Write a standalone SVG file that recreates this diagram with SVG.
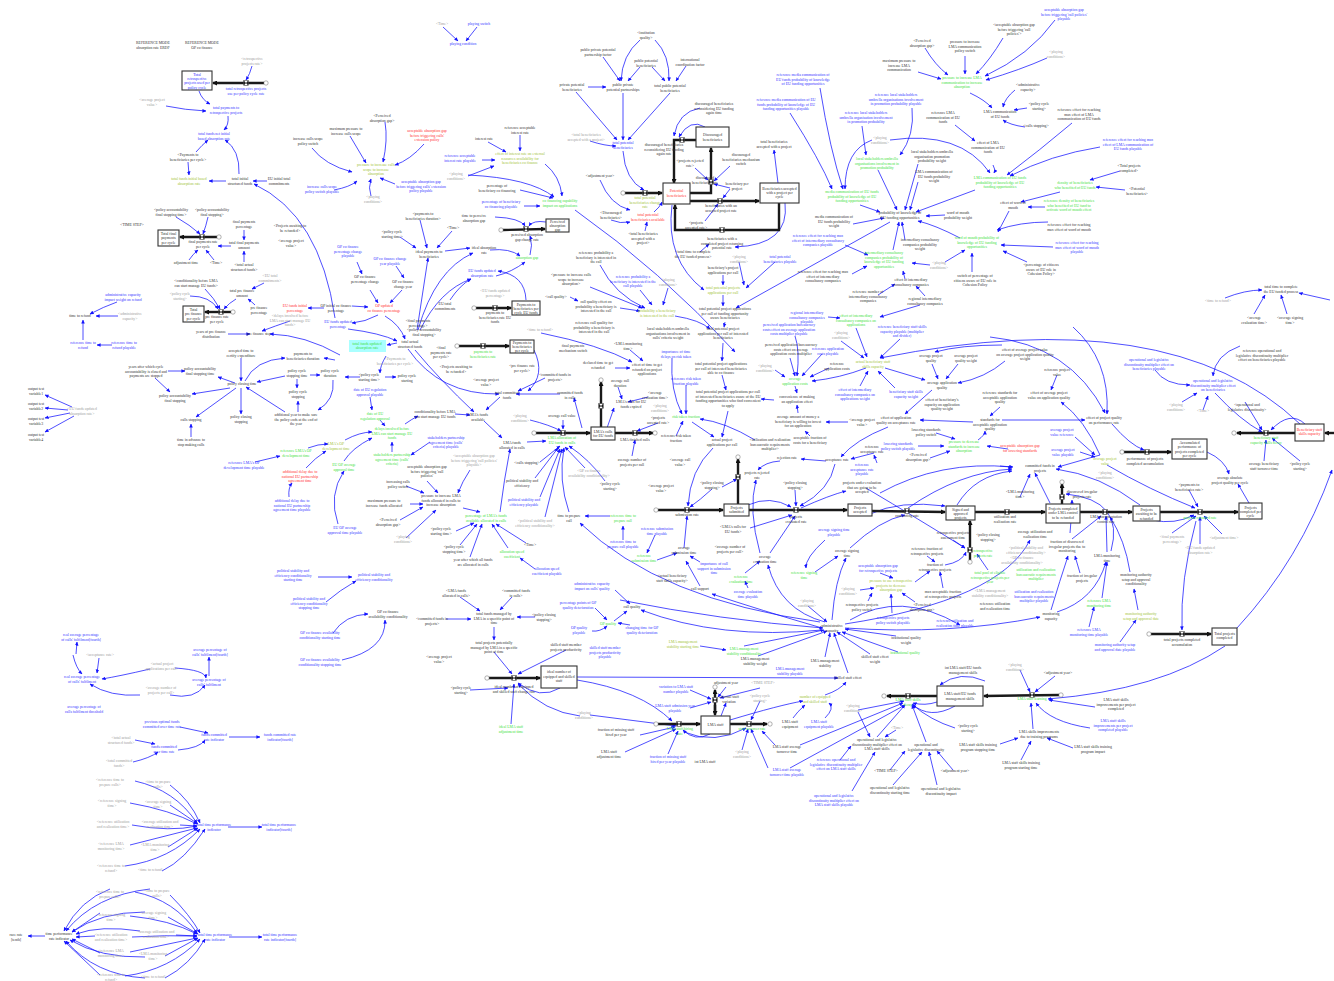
<svg xmlns="http://www.w3.org/2000/svg" width="1334" height="981" viewBox="0 0 1334 981">
<style>
text{font-family:"Liberation Serif","Times New Roman",serif;font-size:3.8px;text-anchor:middle}
.k{fill:#333}.b{fill:#3535ff}.g{fill:#3ee23e}.y{fill:#a3c43a}.gr{fill:#a0a0a0}.r{fill:#ff3030}
.c path{fill:none;stroke:#1414ff;stroke-width:.75;marker-end:url(#a)}
.pipe path{fill:none;stroke:#1a1a1a;stroke-width:2.4;marker-end:url(#p)}
.st rect{fill:#fff;stroke:#333;stroke-width:1.1}
.cl{fill:#fff;stroke:#666;stroke-width:.5}
</style>
<defs>
<marker id="a" viewBox="0 0 10 10" refX="9" refY="5" markerWidth="4" markerHeight="4" markerUnits="userSpaceOnUse" orient="auto"><path d="M0,0.5L10,5L0,9.5z" fill="#1414ff"/></marker>
<marker id="p" viewBox="0 0 10 10" refX="8" refY="5" markerWidth="5" markerHeight="5" markerUnits="userSpaceOnUse" orient="auto"><path d="M0,0L10,5L0,10z" fill="#111"/></marker>
<g id="vl"><rect x="-2.2" y="-2.5" width="4.4" height="5" fill="#fff" stroke="#222" stroke-width=".5"/><path d="M-2.2,-2.5L2.2,2.5L2.2,-2.5L-2.2,2.5Z" fill="#222"/></g>
</defs>
<rect width="1334" height="981" fill="#fff"/>

<g id="connectors" class="c">
<path d="M252,66Q250,74 246,80"/>
<path d="M199,91Q202,100 210,104"/>
<path d="M166,106Q185,110 206,111"/>
<path d="M228,116Q229,125 224,130"/>
<path d="M196,152Q202,145 208,140"/>
<path d="M239,174Q240,150 225,140"/>
<path d="M188,162L189,175"/>
<path d="M226,181L209,181"/>
<path d="M267,181L253,181"/>
<path d="M335,318Q320,215 254,184"/>
<path d="M176,217Q190,225 200,234"/>
<path d="M208,217Q206,226 203,234"/>
<path d="M244,230L244,240"/>
<path d="M231,246L218,246"/>
<path d="M189,260Q193,254 198,250"/>
<path d="M214,260Q210,255 206,250"/>
<path d="M244,262L244,251"/>
<path d="M205,289Q214,298 220,309"/>
<path d="M190,296Q210,296 218,309"/>
<path d="M236,299Q229,303 224,309"/>
<path d="M264,283Q258,286 252,289"/>
<path d="M255,305Q252,302 248,299"/>
<path d="M324,308L308,308"/>
<path d="M117,302Q103,307 90,314"/>
<path d="M118,316L96,316"/>
<path d="M83,340L83,320"/>
<path d="M112,345L97,345"/>
<path d="M228,334L250,334"/>
<path d="M340,355Q305,335 270,334"/>
<path d="M290,321Q275,326 262,331"/>
<path d="M241,358L241,381"/>
<path d="M245,381Q255,360 285,358"/>
<path d="M335,360L324,358"/>
<path d="M285,376L257,382"/>
<path d="M310,375L320,375"/>
<path d="M297,379L297,388"/>
<path d="M235,383L218,377"/>
<path d="M168,371L185,371"/>
<path d="M155,378L170,392"/>
<path d="M230,388L192,394"/>
<path d="M236,388L196,417"/>
<path d="M241,388L241,414"/>
<path d="M285,412L246,387"/>
<path d="M298,412L298,401"/>
<path d="M191,437L191,424"/>
<path d="M72,407L45,395"/>
<path d="M68,410L45,408"/>
<path d="M70,413L45,418"/>
<path d="M74,416L45,432"/>
<path d="M255,462L280,456"/>
<path d="M308,448Q318,444 328,444"/>
<path d="M306,468Q315,458 326,451"/>
<path d="M289,497Q288,488 292,483"/>
<path d="M333,380Q335,400 318,410"/>
<path d="M318,577L352,577"/>
<path d="M326,602Q340,590 356,581"/>
<path d="M333,633Q345,615 368,614"/>
<path d="M342,660Q386,650 385,620"/>
<path d="M386,356Q380,366 380,373"/>
<path d="M385,377L396,377"/>
<path d="M360,377L345,377"/>
<path d="M397,343L387,345"/>
<path d="M385,316Q400,325 405,339"/>
<path d="M348,329Q380,333 397,341"/>
<path d="M370,397L372,410"/>
<path d="M380,420L385,426"/>
<path d="M405,424Q412,419 418,416"/>
<path d="M345,440Q360,432 372,432"/>
<path d="M392,452L392,442"/>
<path d="M344,461Q352,448 372,438"/>
<path d="M430,442L411,455"/>
<path d="M338,524Q328,495 344,471"/>
<path d="M415,350Q440,380 474,412"/>
<path d="M408,349Q440,395 499,394"/>
<path d="M500,397L486,410"/>
<path d="M560,394L516,394"/>
<path d="M545,378L518,391"/>
<path d="M534,350Q546,375 528,391"/>
<path d="M455,414L470,415"/>
<path d="M484,421L502,438"/>
<path d="M527,442L546,441"/>
<path d="M500,512Q504,480 510,449"/>
<path d="M530,420Q550,425 561,431"/>
<path d="M563,420L563,429"/>
<path d="M540,462L560,446"/>
<path d="M535,478L558,448"/>
<path d="M540,497L560,449"/>
<path d="M585,468L565,447"/>
<path d="M545,517L562,449"/>
<path d="M605,481Q590,460 569,446"/>
<path d="M569,512Q558,480 564,448"/>
<path d="M610,516L585,516"/>
<path d="M623,540L623,526"/>
<path d="M427,481L438,493"/>
<path d="M470,470Q462,482 458,493"/>
<path d="M406,486L424,493"/>
<path d="M410,504L423,504"/>
<path d="M400,520L423,507"/>
<path d="M406,538L436,510"/>
<path d="M463,508L480,512"/>
<path d="M456,531L474,523"/>
<path d="M460,545L477,524"/>
<path d="M470,557L482,524"/>
<path d="M526,543L496,524"/>
<path d="M508,548L492,524"/>
<path d="M535,569L520,558"/>
<path d="M460,597L480,611"/>
<path d="M512,597L500,610"/>
<path d="M446,619L471,619"/>
<path d="M535,617L517,617"/>
<path d="M494,627L494,640"/>
<path d="M615,590L630,604"/>
<path d="M595,608L607,620"/>
<path d="M592,631Q600,632 607,626"/>
<path d="M630,625L618,623"/>
<path d="M614,621L627,611"/>
<path d="M822,630Q720,640 641,610"/>
<path d="M820,622Q660,600 580,523"/>
<path d="M630,350L643,361"/>
<path d="M615,368L630,368"/>
<path d="M541,333Q600,345 632,362"/>
<path d="M618,387L622,399"/>
<path d="M648,397L628,402"/>
<path d="M658,423L637,431"/>
<path d="M607,428L614,408"/>
<path d="M632,456L635,440"/>
<path d="M582,428L574,398"/>
<path d="M443,27L458,41"/>
<path d="M477,27L466,41"/>
<path d="M603,57L620,81"/>
<path d="M640,67L628,81"/>
<path d="M640,40Q622,55 621,81"/>
<path d="M655,40Q670,55 669,81"/>
<path d="M652,67L665,81"/>
<path d="M686,66L676,81"/>
<path d="M588,87L606,87"/>
<path d="M576,92L617,140"/>
<path d="M623,93L623,140"/>
<path d="M670,93L628,140"/>
<path d="M590,141Q605,146 616,146"/>
<path d="M623,151Q625,180 644,190"/>
<path d="M600,180Q610,205 630,210"/>
<path d="M611,220Q620,224 630,222"/>
<path d="M645,231L647,222"/>
<path d="M654,212Q660,207 662,202"/>
<path d="M385,122Q388,140 383,162"/>
<path d="M350,136L366,163"/>
<path d="M424,144Q410,160 395,165"/>
<path d="M395,184L380,178"/>
<path d="M371,196Q368,188 371,179"/>
<path d="M312,148Q325,165 352,172"/>
<path d="M334,190Q350,187 357,181"/>
<path d="M488,142L506,152"/>
<path d="M520,135L520,151"/>
<path d="M482,160L495,160"/>
<path d="M468,176L494,166"/>
<path d="M468,175Q530,178 554,197"/>
<path d="M520,190L553,198"/>
<path d="M524,206L540,206"/>
<path d="M545,164Q560,176 562,196"/>
<path d="M575,210Q660,270 735,352"/>
<path d="M495,217Q520,218 525,226"/>
<path d="M546,222Q533,220 529,226"/>
<path d="M530,255Q533,245 530,236"/>
<path d="M490,250Q510,248 520,256"/>
<path d="M445,251L470,248"/>
<path d="M420,220L427,248"/>
<path d="M400,237L416,248"/>
<path d="M452,231L437,248"/>
<path d="M496,276Q512,272 525,262"/>
<path d="M526,300Q525,275 498,271"/>
<path d="M450,300Q460,285 471,279"/>
<path d="M357,262L362,274"/>
<path d="M396,266L404,278"/>
<path d="M370,290L378,303"/>
<path d="M402,290L390,303"/>
<path d="M352,306L368,307"/>
<path d="M378,315Q365,322 352,323"/>
<path d="M600,265Q615,295 645,308"/>
<path d="M590,287L642,308"/>
<path d="M620,308L640,311"/>
<path d="M640,290L652,305"/>
<path d="M668,288L663,305"/>
<path d="M570,297L578,301"/>
<path d="M417,330L428,258"/>
<path d="M418,330Q435,270 473,253"/>
<path d="M420,330Q440,290 471,279"/>
<path d="M700,108Q678,112 674,136"/>
<path d="M705,127Q690,118 679,137"/>
<path d="M695,168L708,180"/>
<path d="M730,166L714,181"/>
<path d="M730,188L714,184"/>
<path d="M730,189L723,198"/>
<path d="M705,221L718,204"/>
<path d="M778,183L774,150"/>
<path d="M785,203Q790,245 735,247"/>
<path d="M672,205Q665,260 704,290"/>
<path d="M700,252L709,244"/>
<path d="M739,262L744,285"/>
<path d="M775,262L746,288"/>
<path d="M723,275L723,285"/>
<path d="M723,295L723,306"/>
<path d="M725,322L724,327"/>
<path d="M675,316Q700,320 710,329"/>
<path d="M723,343L722,361"/>
<path d="M722,375L726,390"/>
<path d="M890,222L736,308"/>
<path d="M860,205L880,212"/>
<path d="M820,88Q830,150 843,189"/>
<path d="M790,113Q820,160 832,189"/>
<path d="M872,140Q845,150 845,189"/>
<path d="M890,140Q960,130 990,173"/>
<path d="M912,108Q915,135 900,155"/>
<path d="M862,126L866,155"/>
<path d="M878,170L897,210"/>
<path d="M918,164L905,210"/>
<path d="M918,182L910,210"/>
<path d="M975,190L916,212"/>
<path d="M853,224L884,218"/>
<path d="M945,215L926,216"/>
<path d="M905,240L902,222"/>
<path d="M893,250L899,222"/>
<path d="M960,238Q935,225 918,221"/>
<path d="M930,265L912,263"/>
<path d="M945,262L965,250"/>
<path d="M845,245L868,255"/>
<path d="M852,274L867,266"/>
<path d="M905,279L903,271"/>
<path d="M878,295L895,284"/>
<path d="M925,296L916,286"/>
<path d="M828,317L840,318"/>
<path d="M920,305L880,317"/>
<path d="M972,272L972,253"/>
<path d="M925,48Q935,65 948,75"/>
<path d="M965,56L965,74"/>
<path d="M918,72L941,79"/>
<path d="M1003,38Q990,60 976,74"/>
<path d="M1055,20Q1030,55 985,76"/>
<path d="M1047,58Q1020,70 986,80"/>
<path d="M970,93Q985,100 992,108"/>
<path d="M1015,90Q1005,98 1003,107"/>
<path d="M1027,108L1014,110"/>
<path d="M1025,127Q1010,125 1003,120"/>
<path d="M955,125L975,141"/>
<path d="M993,165Q996,170 994,173"/>
<path d="M1072,123Q1040,150 1007,175"/>
<path d="M1100,147Q1050,155 1010,176"/>
<path d="M1120,171L1090,180"/>
<path d="M1125,190L1096,187"/>
<path d="M1060,192L1021,202"/>
<path d="M1045,207L1028,207"/>
<path d="M1048,222Q1020,222 997,230"/>
<path d="M1053,247L1001,245"/>
<path d="M1027,262L1003,251"/>
<path d="M1009,211L998,232"/>
<path d="M1225,298Q1245,290 1262,290"/>
<path d="M1254,314L1265,295"/>
<path d="M1287,314L1281,295"/>
<path d="M1330,300L1299,293"/>
<path d="M790,358L795,376"/>
<path d="M822,354L802,376"/>
<path d="M829,368L810,377"/>
<path d="M775,370L785,377"/>
<path d="M795,386L797,393"/>
<path d="M774,400L761,399"/>
<path d="M866,368Q840,378 812,381"/>
<path d="M885,368L925,380"/>
<path d="M860,386L868,371"/>
<path d="M895,388L878,371"/>
<path d="M856,328L867,357"/>
<path d="M900,339L880,358"/>
<path d="M841,341L864,358"/>
<path d="M795,336Q800,350 797,376"/>
<path d="M1002,345Q960,345 935,352"/>
<path d="M1005,361Q985,378 958,383"/>
<path d="M932,364L938,379"/>
<path d="M958,364L946,379"/>
<path d="M932,390L905,414"/>
<path d="M1000,407L990,416"/>
<path d="M973,422L920,420"/>
<path d="M1002,420L1085,420"/>
<path d="M888,427Q855,440 841,457"/>
<path d="M798,413L797,405"/>
<path d="M848,422L826,422"/>
<path d="M810,436L805,431"/>
<path d="M728,411L722,437"/>
<path d="M692,422L714,437"/>
<path d="M755,440Q725,422 700,419"/>
<path d="M686,385L686,414"/>
<path d="M672,358Q670,390 682,414"/>
<path d="M676,436L683,421"/>
<path d="M713,448Q690,470 688,506"/>
<path d="M936,433L955,439"/>
<path d="M918,446L944,446"/>
<path d="M930,458L950,451"/>
<path d="M1008,449L987,446"/>
<path d="M978,440Q985,435 985,431"/>
<path d="M874,453L851,459"/>
<path d="M877,463L874,455"/>
<path d="M826,461L801,459"/>
<path d="M835,464Q830,490 800,506"/>
<path d="M780,461Q765,462 758,470"/>
<path d="M722,487L737,479"/>
<path d="M795,490L796,506"/>
<path d="M712,489Q700,500 690,507"/>
<path d="M748,505Q770,495 791,507"/>
<path d="M750,528L792,515"/>
<path d="M770,553L795,516"/>
<path d="M760,553Q748,510 756,480"/>
<path d="M801,508Q830,495 846,491"/>
<path d="M850,548Q880,520 905,515"/>
<path d="M870,514Q900,500 945,506"/>
<path d="M880,493Q940,460 1012,467"/>
<path d="M908,508Q960,472 1012,469"/>
<path d="M957,505Q975,475 1012,471"/>
<path d="M825,540Q805,558 806,568"/>
<path d="M815,572L838,556"/>
<path d="M745,573L760,561"/>
<path d="M748,588L745,581"/>
<path d="M684,548L687,516"/>
<path d="M700,562L690,556"/>
<path d="M700,586L686,561"/>
<path d="M655,535L647,553"/>
<path d="M657,560L677,553"/>
<path d="M880,573L893,578"/>
<path d="M927,556L935,562"/>
<path d="M943,588L940,572"/>
<path d="M945,565Q962,562 966,552"/>
<path d="M915,582L930,571"/>
<path d="M860,590L874,588"/>
<path d="M868,601L872,593"/>
<path d="M892,613L891,594"/>
<path d="M915,602L902,593"/>
<path d="M953,540L965,548"/>
<path d="M988,570L977,554"/>
<path d="M866,488Q920,520 965,548"/>
<path d="M845,628Q950,635 1040,617"/>
<path d="M845,624Q1000,600 1030,540"/>
<path d="M822,628Q760,610 712,594"/>
<path d="M825,622Q780,610 768,565"/>
<path d="M832,620Q835,580 846,558"/>
<path d="M850,620Q900,590 960,625"/>
<path d="M808,606L827,622"/>
<path d="M744,646L824,630"/>
<path d="M758,656L827,631"/>
<path d="M825,657L830,633"/>
<path d="M870,654L837,632"/>
<path d="M896,636L845,629"/>
<path d="M898,652L842,632"/>
<path d="M848,673L834,633"/>
<path d="M700,646L726,650"/>
<path d="M620,600Q720,620 823,628"/>
<path d="M1100,455L1058,467"/>
<path d="M1107,465Q1150,490 1195,508"/>
<path d="M1075,437L1095,455"/>
<path d="M1080,452L1095,457"/>
<path d="M1100,455Q1085,420 1061,402"/>
<path d="M1057,375L1051,390"/>
<path d="M1073,327Q1110,360 1107,414"/>
<path d="M1112,424Q1130,445 1144,450"/>
<path d="M1050,503L1035,473"/>
<path d="M1020,497L1030,474"/>
<path d="M1140,505Q1100,475 1056,469"/>
<path d="M1000,466L1013,467"/>
<path d="M1107,552L1106,516"/>
<path d="M1072,539L1101,516"/>
<path d="M1130,572Q1125,540 1110,517"/>
<path d="M1080,573L1075,556"/>
<path d="M1051,610Q1060,580 1068,556"/>
<path d="M1057,612Q1095,600 1106,562"/>
<path d="M1102,598L1107,562"/>
<path d="M1089,627L1094,607"/>
<path d="M1138,610L1134,589"/>
<path d="M1120,642L1136,620"/>
<path d="M1111,551Q1125,500 1066,494"/>
<path d="M1070,533Q1072,510 1072,500"/>
<path d="M1189,490L1198,507"/>
<path d="M1172,533L1196,516"/>
<path d="M1222,534L1204,516"/>
<path d="M1200,544L1200,517"/>
<path d="M1152,520Q1175,525 1194,515"/>
<path d="M1196,521Q1180,580 1182,630"/>
<path d="M1249,503L1238,484"/>
<path d="M1207,452Q1225,460 1229,474"/>
<path d="M1237,628Q1300,560 1332,470"/>
<path d="M1300,424Q1170,300 880,358"/>
<path d="M1300,461L1272,438"/>
<path d="M1264,461L1266,440"/>
<path d="M1245,402L1262,430"/>
<path d="M1215,393Q1240,420 1262,432"/>
<path d="M1203,410L1208,396"/>
<path d="M1182,402L1197,393"/>
<path d="M1240,346Q1215,355 1213,376"/>
<path d="M1155,370Q1165,385 1190,385"/>
<path d="M1305,424Q1290,410 1271,430"/>
<path d="M990,337Q1070,345 1105,413"/>
<path d="M577,677L838,678"/>
<path d="M577,680Q640,690 672,721"/>
<path d="M730,720Q780,705 803,701"/>
<path d="M793,718Q797,712 805,705"/>
<path d="M825,718Q835,708 829,703"/>
<path d="M825,695Q840,690 846,682"/>
<path d="M858,710L904,701"/>
<path d="M858,712L870,737"/>
<path d="M937,702Q925,706 913,703"/>
<path d="M955,728Q930,720 913,705"/>
<path d="M926,742L912,705"/>
<path d="M877,737L905,705"/>
<path d="M800,745L903,703"/>
<path d="M790,768L905,705"/>
<path d="M775,745L762,731"/>
<path d="M768,768L751,729"/>
<path d="M742,750L748,729"/>
<path d="M760,701L751,720"/>
<path d="M721,716L726,703"/>
<path d="M726,687L718,697"/>
<path d="M760,688L720,698"/>
<path d="M690,690L711,699"/>
<path d="M690,708L711,702"/>
<path d="M710,734Q695,742 683,730"/>
<path d="M684,732Q715,745 746,728"/>
<path d="M840,760L851,746"/>
<path d="M852,791L875,752"/>
<path d="M896,730L885,737"/>
<path d="M890,770L905,751"/>
<path d="M953,770L937,751"/>
<path d="M893,785L922,752"/>
<path d="M937,785L929,752"/>
<path d="M1020,670L1030,692"/>
<path d="M1055,676L1035,692"/>
<path d="M1095,707L1049,700"/>
<path d="M1090,728Q1050,722 1036,703"/>
<path d="M1033,729L1031,703"/>
<path d="M1073,748L1047,738"/>
<path d="M1021,760L1031,741"/>
<path d="M1000,744L1018,738"/>
<path d="M1225,646Q1160,690 1048,699"/>
<path d="M955,706Q930,720 912,704"/>
<path d="M985,681Q960,670 940,685"/>
<path d="M560,688Q540,700 518,683"/>
<path d="M580,716Q545,712 518,684"/>
<path d="M590,715L676,726"/>
<path d="M511,724L514,684"/>
<path d="M470,690L508,688"/>
<path d="M566,650L518,674"/>
<path d="M494,652L512,674"/>
<path d="M640,735L675,727"/>
<path d="M625,752L676,729"/>
<path d="M668,754L678,731"/>
<path d="M135,781Q175,790 197,823"/>
<path d="M170,785Q190,800 200,823"/>
<path d="M130,803Q170,810 197,824"/>
<path d="M170,805L198,824"/>
<path d="M132,825Q170,832 197,826"/>
<path d="M180,825L197,826"/>
<path d="M130,845L197,828"/>
<path d="M168,847L198,828"/>
<path d="M125,866Q170,860 200,829"/>
<path d="M162,871Q185,860 205,829"/>
<path d="M228,827L262,827"/>
<path d="M180,727L208,733"/>
<path d="M135,740L155,744"/>
<path d="M133,762Q150,758 158,752"/>
<path d="M178,750Q200,748 205,740"/>
<path d="M229,737L260,737"/>
<path d="M150,669Q120,676 102,679"/>
<path d="M175,668Q205,670 206,678"/>
<path d="M140,695Q110,697 90,684"/>
<path d="M170,695Q195,700 205,685"/>
<path d="M209,676L209,657"/>
<path d="M99,658L97,673"/>
<path d="M76,654L77,642"/>
<path d="M73,655Q76,668 82,674"/>
<path d="M135,892Q175,900 197,933"/>
<path d="M170,895Q190,915 200,933"/>
<path d="M130,916Q170,920 197,934"/>
<path d="M168,917L198,934"/>
<path d="M132,937Q165,935 197,936"/>
<path d="M176,935L197,936"/>
<path d="M130,952L197,938"/>
<path d="M165,956L198,938"/>
<path d="M125,976Q170,970 200,939"/>
<path d="M165,978Q190,965 205,939"/>
<path d="M110,889Q80,900 64,931"/>
<path d="M150,889Q95,895 66,931"/>
<path d="M100,913L72,932"/>
<path d="M145,912Q100,912 72,932"/>
<path d="M95,936L76,937"/>
<path d="M140,931Q100,925 76,934"/>
<path d="M100,953L72,939"/>
<path d="M145,957Q100,958 70,940"/>
<path d="M100,975L64,941"/>
<path d="M145,978Q95,975 66,941"/>
<path d="M229,937L262,937"/>
<path d="M45,936L28,936"/>
</g>

<g id="flows" class="pipe">
<path d="M264,83L213,83"/>
<path d="M217,237L180,237"/>
<path d="M231,312L205,312"/>
<path d="M503,230L545,229"/>
<path d="M476,308L511,308"/>
<path d="M459,346L509,346"/>
<path d="M625,193L662,193"/>
<path d="M690,201L759,201"/>
<path d="M690,193L711,193L711,148"/>
<path d="M696,140L674,140L674,183"/>
<path d="M779,203L779,230L675,230L675,205"/>
<path d="M536,433L590,433"/>
<path d="M601,427L601,382"/>
<path d="M615,433L653,433"/>
<path d="M658,510L723,510"/>
<path d="M738,504L738,459"/>
<path d="M749,510L847,510"/>
<path d="M872,511L945,512"/>
<path d="M970,560L970,521"/>
<path d="M975,512L1045,512"/>
<path d="M1062,504L1062,484"/>
<path d="M1080,512L1132,512"/>
<path d="M1160,512L1238,512"/>
<path d="M1124,452L1171,452"/>
<path d="M1151,634L1211,634"/>
<path d="M1295,433L1237,433"/>
<path d="M1334,433L1325,433"/>
<path d="M489,678L540,678"/>
<path d="M658,724L700,724"/>
<path d="M730,724L767,724"/>
<path d="M715,705L715,715"/>
<path d="M715,711L715,690"/>
<path d="M937,696L887,696"/>
<path d="M1059,695L984,696"/>
</g>
<g id="clouds">
<circle class="cl" cx="266" cy="83" r="2.2"/><circle class="cl" cx="219" cy="237" r="2.2"/><circle class="cl" cx="233" cy="312" r="2.2"/><circle class="cl" cx="501" cy="230" r="2.2"/><circle class="cl" cx="474" cy="308" r="2.2"/><circle class="cl" cx="457" cy="346" r="2.2"/><circle class="cl" cx="623" cy="193" r="2.2"/><circle class="cl" cx="534" cy="433" r="2.2"/><circle class="cl" cx="601" cy="380" r="2.2"/><circle class="cl" cx="655" cy="433" r="2.2"/><circle class="cl" cx="656" cy="510" r="2.2"/><circle class="cl" cx="738" cy="457" r="2.2"/><circle class="cl" cx="970" cy="562" r="2.2"/><circle class="cl" cx="1062" cy="482" r="2.2"/><circle class="cl" cx="1122" cy="452" r="2.2"/><circle class="cl" cx="1149" cy="634" r="2.2"/><circle class="cl" cx="1234" cy="433" r="2.2"/><circle class="cl" cx="487" cy="678" r="2.2"/><circle class="cl" cx="656" cy="724" r="2.2"/><circle class="cl" cx="770" cy="724" r="2.2"/><circle class="cl" cx="715" cy="687" r="2.2"/><circle class="cl" cx="884" cy="696" r="2.2"/><circle class="cl" cx="1061" cy="695" r="2.2"/>
</g>
<g id="valves">
<use href="#vl" x="246" y="83"/><use href="#vl" x="202" y="237"/><use href="#vl" x="221" y="312"/><use href="#vl" x="526" y="229"/><use href="#vl" x="495" y="308"/><use href="#vl" x="483" y="346"/><use href="#vl" x="645" y="193"/><use href="#vl" x="720" y="201"/><use href="#vl" x="711" y="182"/><use href="#vl" x="682" y="140"/><use href="#vl" x="722" y="230"/><use href="#vl" x="563" y="433"/><use href="#vl" x="601" y="406"/><use href="#vl" x="635" y="433"/><use href="#vl" x="687" y="510"/><use href="#vl" x="738" y="477"/><use href="#vl" x="796" y="510"/><use href="#vl" x="907" y="511"/><use href="#vl" x="970" y="550"/><use href="#vl" x="1007" y="512"/><use href="#vl" x="1062" y="497"/><use href="#vl" x="1105" y="512"/><use href="#vl" x="1200" y="512"/><use href="#vl" x="1147" y="452"/><use href="#vl" x="1182" y="634"/><use href="#vl" x="1266" y="433"/><use href="#vl" x="514" y="678"/><use href="#vl" x="679" y="724"/><use href="#vl" x="749" y="724"/><use href="#vl" x="715" y="700"/><use href="#vl" x="908" y="696"/><use href="#vl" x="1032" y="695"/>
</g>

<g id="stocks" class="st">
<g id="s1"><rect x="182" y="71" width="30" height="19"/><text class="b" x="197" y="75.5">Total<tspan x="197" dy="4.4">retrospective</tspan><tspan x="197" dy="4.4">projects used per</tspan><tspan x="197" dy="4.4">policy cycle</tspan></text></g>
<g id="s2"><rect x="158" y="230" width="21" height="16"/><text class="k" x="168.5" y="235">Total final<tspan x="168.5" dy="4.4">payments</tspan><tspan x="168.5" dy="4.4">per cycle</tspan></text></g>
<g id="s3"><rect x="183" y="306" width="21" height="16"/><text class="k" x="193.5" y="311">Total<tspan x="193.5" dy="4.4">pre finance</tspan><tspan x="193.5" dy="4.4">per cycle</tspan></text></g>
<g id="s4"><rect x="546" y="219" width="23" height="13"/><text class="k" x="557.5" y="223">Perceived<tspan x="557.5" dy="4.2">absorption</tspan><tspan x="557.5" dy="4.2">gap</tspan></text></g>
<g id="s5"><rect x="512" y="301" width="28" height="14"/><text class="k" x="526" y="305.5">Payments to<tspan x="526" dy="4.3">beneficiaries per</tspan><tspan x="526" dy="4.3">cycle EU funds</tspan></text></g>
<g id="s6"><rect x="696" y="127" width="33" height="20"/><text class="k" x="712.5" y="136">Discouraged<tspan x="712.5" dy="4.5">beneficiaries</tspan></text></g>
<g id="s7"><rect x="663" y="183" width="27" height="21"/><text class="r" x="676.5" y="192">Potential<tspan x="676.5" dy="4.5">beneficiaries</tspan></text></g>
<g id="s8"><rect x="760" y="183" width="39" height="20"/><text class="k" x="779.5" y="189.5">Beneficiaries accepted<tspan x="779.5" dy="4.4">with a project per</tspan><tspan x="779.5" dy="4.4">cycle</tspan></text></g>
<g id="s9"><rect x="510" y="340" width="24" height="13"/><text class="k" x="522" y="344">Payments to<tspan x="522" dy="4.2">beneficiaries</tspan><tspan x="522" dy="4.2">per cycle</tspan></text></g>
<g id="s10"><rect x="591" y="427" width="24" height="13"/><text class="k" x="603" y="433">LMA's calls<tspan x="603" dy="4.3">for EU funds</tspan></text></g>
<g id="s11"><rect x="724" y="504" width="25" height="12"/><text class="k" x="736.5" y="509">Projects<tspan x="736.5" dy="4.3">submitted</tspan></text></g>
<g id="s12"><rect x="848" y="504" width="24" height="12"/><text class="k" x="860" y="509">Projects<tspan x="860" dy="4.3">accepted</tspan></text></g>
<g id="s13"><rect x="946" y="506" width="29" height="14"/><text class="k" x="960.5" y="510.5">Signed and<tspan x="960.5" dy="4.3">approved</tspan><tspan x="960.5" dy="4.3">projects</tspan></text></g>
<g id="s14"><rect x="1046" y="504" width="34" height="19"/><text class="k" x="1063" y="510">Projects completed<tspan x="1063" dy="4.4">under LMA control</tspan><tspan x="1063" dy="4.4">to be refunded</tspan></text></g>
<g id="s15"><rect x="1133" y="506" width="27" height="15"/><text class="k" x="1146.5" y="511">Projects<tspan x="1146.5" dy="4.3">awaiting to be</tspan><tspan x="1146.5" dy="4.3">refunded</tspan></text></g>
<g id="s16"><rect x="1239" y="503" width="23" height="16"/><text class="k" x="1250.5" y="508.5">Projects<tspan x="1250.5" dy="4.3">completed per</tspan><tspan x="1250.5" dy="4.3">cycle</tspan></text></g>
<g id="s17"><rect x="1212" y="628" width="25" height="17"/><text class="k" x="1224.5" y="635">Total projects<tspan x="1224.5" dy="4.4">completed</tspan></text></g>
<g id="s18"><rect x="701" y="716" width="29" height="18"/><text class="k" x="715.5" y="726">LMA staff</text></g>
<g id="s19"><rect x="937" y="686" width="46" height="20"/><text class="k" x="960" y="695">LMA staff/EU funds<tspan x="960" dy="4.5">management skills</tspan></text></g>
<g id="s20"><rect x="541" y="666" width="36" height="22"/><text class="k" x="559" y="673">ideal number of<tspan x="559" dy="4.5">equipped and skilled</tspan><tspan x="559" dy="4.5">staff</tspan></text></g>
<g id="s21"><rect x="1295" y="424" width="29" height="17"/><text class="r" x="1309.5" y="431">Beneficiary staff<tspan x="1309.5" dy="4.4">skills capacity</tspan></text></g>
<g id="s22"><rect x="1172" y="439" width="35" height="20"/><text class="k" x="1189.5" y="444">Accumulated<tspan x="1189.5" dy="4.3">performance of</tspan><tspan x="1189.5" dy="4.3">projects completed</tspan><tspan x="1189.5" dy="4.3">per cycle</tspan></text></g>
</g>

<g id="v-ref1"><text class="k" x="153" y="44">REFERENCE MODE<tspan x="153" dy="5">absorption rate ERDF</tspan></text></g>
<g id="v-ref2"><text class="k" x="202" y="44">REFERENCE MODE<tspan x="202" dy="5">OP co finance</tspan></text></g>
<g id="v1"><text class="gr" x="252" y="60">&lt;retrospective<tspan x="252" dy="4.6">projects rate&gt;</tspan></text></g>
<g id="v2"><text class="b" x="246" y="90">total retrospective projects<tspan x="246" dy="4.6">use per policy cycle rate</tspan></text></g>
<g id="v3"><text class="gr" x="152" y="101">&lt;average project<tspan x="152" dy="4.6">value&gt;</tspan></text></g>
<g id="v4"><text class="b" x="226" y="109">total payments to<tspan x="226" dy="4.6">retrospective projects</tspan></text></g>
<g id="v5"><text class="b" x="214" y="135">total funds net initial<tspan x="214" dy="4.6">based absorption rate</tspan></text></g>
<g id="v6"><text class="k" x="188" y="156">&lt;Payments to<tspan x="188" dy="4.6">beneficiaries per cycle&gt;</tspan></text></g>
<g id="v7"><text class="y" x="189" y="180">total funds initial based<tspan x="189" dy="4.6">absorption rate</tspan></text></g>
<g id="v8"><text class="k" x="240" y="180">total initial<tspan x="240" dy="4.6">structured funds</tspan></text></g>
<g id="v9"><text class="k" x="279" y="180">EU initial total<tspan x="279" dy="4.6">commitments</tspan></text></g>
<g id="v10"><text class="k" x="308" y="140">increase calls scope<tspan x="308" dy="4.6">policy switch</tspan></text></g>
<g id="v11"><text class="b" x="322" y="188">increase calls scope<tspan x="322" dy="4.6">policy switch playable</tspan></text></g>
<g id="v12"><text class="k" x="132" y="226">&lt;TIME STEP&gt;</text></g>
<g id="v13"><text class="k" x="171" y="211">&lt;policy accountability<tspan x="171" dy="4.6">final stopping time&gt;</tspan></text></g>
<g id="v14"><text class="k" x="212" y="211">&lt;policy accountability<tspan x="212" dy="4.6">final stopping&gt;</tspan></text></g>
<g id="v15"><text class="k" x="244" y="223">final payments<tspan x="244" dy="4.6">percentage</tspan></text></g>
<g id="v16"><text class="k" x="290" y="227">&lt;Projects awaiting to<tspan x="290" dy="4.6">be refunded&gt;</tspan></text></g>
<g id="v17"><text class="k" x="291" y="242">&lt;average project<tspan x="291" dy="4.6">value&gt;</tspan></text></g>
<g id="v18"><text class="k" x="203" y="243">final payments rate<tspan x="203" dy="4.6">per cycle</tspan></text></g>
<g id="v19"><text class="k" x="244" y="244">total final payments<tspan x="244" dy="4.6">amount</tspan></text></g>
<g id="v20"><text class="k" x="186" y="264">adjustment time</text></g>
<g id="v21"><text class="k" x="216" y="264">&lt;Time&gt;</text></g>
<g id="v22"><text class="k" x="244" y="266">&lt;total actual<tspan x="244" dy="4.6">structured funds&gt;</tspan></text></g>
<g id="v23"><text class="k" x="196" y="282">&lt;conditionality before LMA<tspan x="196" dy="4.6">can start manage EU funds&gt;</tspan></text></g>
<g id="v24"><text class="gr" x="270" y="277">&lt;EU total<tspan x="270" dy="4.6">commitments&gt;</tspan></text></g>
<g id="v25"><text class="gr" x="180" y="295">&lt;policy cycle<tspan x="180" dy="4.6">starting&gt;</tspan></text></g>
<g id="v26"><text class="k" x="242" y="292">total pre finance<tspan x="242" dy="4.6">amount</tspan></text></g>
<g id="v27"><text class="k" x="217" y="318">pre finance rate<tspan x="217" dy="4.6">per cycle</tspan></text></g>
<g id="v28"><text class="k" x="259" y="309">pre finance<tspan x="259" dy="4.6">percentage</tspan></text></g>
<g id="v29"><text class="r" x="295" y="307">EU funds initial<tspan x="295" dy="4.6">percentage</tspan></text></g>
<g id="v30"><text class="gr" x="290" y="317">&lt;delays involved before<tspan x="290" dy="4.6">LMA can start manage EU</tspan><tspan x="290" dy="4.6">funds&gt;</tspan></text></g>
<g id="v31"><text class="k" x="336" y="307">OP initial co finance<tspan x="336" dy="4.6">percentage</tspan></text></g>
<g id="v32"><text class="b" x="338" y="323">EU funds updated<tspan x="338" dy="4.6">percentage</tspan></text></g>
<g id="v33"><text class="b" x="123" y="296">administrative capacity<tspan x="123" dy="4.6">impact weight on refund</tspan></text></g>
<g id="v34"><text class="k" x="80" y="317">time to refund</text></g>
<g id="v35"><text class="gr" x="130" y="315">&lt;administrative<tspan x="130" dy="4.6">capacity&gt;</tspan></text></g>
<g id="v36"><text class="b" x="83" y="344">reference time to<tspan x="83" dy="4.6">refund</tspan></text></g>
<g id="v37"><text class="b" x="124" y="344">reference time to<tspan x="124" dy="4.6">refund playable</tspan></text></g>
<g id="v38"><text class="k" x="211" y="333">years of pre finance<tspan x="211" dy="4.6">distribution</tspan></text></g>
<g id="v39"><text class="k" x="259" y="335">pre finance step</text></g>
<g id="v40"><text class="k" x="241" y="352">accepted time to<tspan x="241" dy="4.6">certify expenditure</tspan></text></g>
<g id="v41"><text class="k" x="303" y="355">payments to<tspan x="303" dy="4.6">beneficiaries duration</tspan></text></g>
<g id="v42"><text class="k" x="146" y="368">years after which cycle<tspan x="146" dy="4.6">accountability is closed and</tspan><tspan x="146" dy="4.6">payments are stopped</tspan></text></g>
<g id="v43"><text class="k" x="200" y="370">policy accountability<tspan x="200" dy="4.6">final stopping time</tspan></text></g>
<g id="v44"><text class="k" x="297" y="372">policy cycle<tspan x="297" dy="4.6">stopping time</tspan></text></g>
<g id="v45"><text class="k" x="330" y="372">policy cycle<tspan x="330" dy="4.6">duration</tspan></text></g>
<g id="v46"><text class="k" x="242" y="385">policy closing time</text></g>
<g id="v47"><text class="k" x="175" y="397">policy accountability<tspan x="175" dy="4.6">final stopping</tspan></text></g>
<g id="v48"><text class="k" x="298" y="393">policy cycle<tspan x="298" dy="4.6">stopping</tspan></text></g>
<g id="v49"><text class="k" x="36" y="390">output test<tspan x="36" dy="4.6">variable1</tspan></text></g>
<g id="v50"><text class="k" x="36" y="405">output test<tspan x="36" dy="4.6">variable2</tspan></text></g>
<g id="v51"><text class="k" x="36" y="420">output test<tspan x="36" dy="4.6">variable3</tspan></text></g>
<g id="v52"><text class="k" x="36" y="436">output test<tspan x="36" dy="4.6">variable4</tspan></text></g>
<g id="v53"><text class="gr" x="82" y="410">&lt;EU funds updated<tspan x="82" dy="4.6">absorption rate&gt;</tspan></text></g>
<g id="v54"><text class="k" x="191" y="421">calls stopping</text></g>
<g id="v55"><text class="k" x="241" y="418">policy closing<tspan x="241" dy="4.6">stopping</tspan></text></g>
<g id="v56"><text class="k" x="296" y="416">additional year to make sure<tspan x="296" dy="4.6">the policy ends at the end of</tspan><tspan x="296" dy="4.6">the year</tspan></text></g>
<g id="v57"><text class="k" x="191" y="441">time in advance to<tspan x="191" dy="4.6">stop making calls</tspan></text></g>
<g id="v58"><text class="g" x="296" y="452">reference LMA's OP<tspan x="296" dy="4.6">development time</tspan></text></g>
<g id="v59"><text class="b" x="244" y="464">reference LMA's OP<tspan x="244" dy="4.6">development time playable</tspan></text></g>
<g id="v60"><text class="r" x="300" y="473">additional delay due to<tspan x="300" dy="4.6">national EU partnership</tspan><tspan x="300" dy="4.6">agreement time</tspan></text></g>
<g id="v61"><text class="b" x="292" y="502">additional delay due to<tspan x="292" dy="4.6">national EU partnership</tspan><tspan x="292" dy="4.6">agreement time playable</tspan></text></g>
<g id="v62"><text class="b" x="293" y="572">political stability and<tspan x="293" dy="4.6">efficiency conditionality</tspan><tspan x="293" dy="4.6">starting time</tspan></text></g>
<g id="v63"><text class="b" x="309" y="600">political stability and<tspan x="309" dy="4.6">efficiency conditionality</tspan><tspan x="309" dy="4.6">stopping time</tspan></text></g>
<g id="v64"><text class="b" x="320" y="634">OP co finance availability<tspan x="320" dy="4.6">conditionality starting time</tspan></text></g>
<g id="v65"><text class="b" x="320" y="661">OP co finance availability<tspan x="320" dy="4.6">conditionality stopping time</tspan></text></g>
<g id="v66"><text class="b" x="81" y="636">real average percentage<tspan x="81" dy="4.6">of calls' fulfilment[fourth]</tspan></text></g>
<g id="v67"><text class="b" x="210" y="651">average percentage of<tspan x="210" dy="4.6">calls' fulfilment[fourth]</tspan></text></g>
<g id="v68"><text class="gr" x="100" y="656">&lt;acceptance rate&gt;</text></g>
<g id="v69"><text class="gr" x="162" y="665">&lt;actual project<tspan x="162" dy="4.6">applications per call&gt;</tspan></text></g>
<g id="v70"><text class="b" x="209" y="681">average percentage of<tspan x="209" dy="4.6">calls' fulfilment</tspan></text></g>
<g id="v71"><text class="b" x="82" y="678">real average percentage<tspan x="82" dy="4.6">of calls' fulfilment</tspan></text></g>
<g id="v72"><text class="gr" x="161" y="689">&lt;average number of<tspan x="161" dy="4.6">projects per call&gt;</tspan></text></g>
<g id="v73"><text class="b" x="84" y="708">average percentage of<tspan x="84" dy="4.6">calls fulfilment threshold</tspan></text></g>
<g id="v74"><text class="b" x="162" y="723">previous optimal funds<tspan x="162" dy="4.6">committed over time rate</tspan></text></g>
<g id="v75"><text class="gr" x="121" y="739">&lt;total actual<tspan x="121" dy="4.6">structured funds&gt;</tspan></text></g>
<g id="v76"><text class="b" x="214" y="736">funds committed<tspan x="214" dy="4.6">rate indicator</tspan></text></g>
<g id="v77"><text class="b" x="280" y="736">funds committed rate<tspan x="280" dy="4.6">indicator[fourth]</tspan></text></g>
<g id="v78"><text class="b" x="164" y="748">funds committed<tspan x="164" dy="4.6">over time rate</tspan></text></g>
<g id="v79"><text class="gr" x="119" y="762">&lt;total committed<tspan x="119" dy="4.6">funds&gt;</tspan></text></g>
<g id="v80"><text class="gr" x="110" y="781">&lt;reference time to<tspan x="110" dy="4.6">prepare calls&gt;</tspan></text></g>
<g id="v81"><text class="gr" x="158" y="783">&lt;time to prepare<tspan x="158" dy="4.6">calls&gt;</tspan></text></g>
<g id="v82"><text class="gr" x="112" y="802">&lt;reference signing<tspan x="112" dy="4.6">time&gt;</tspan></text></g>
<g id="v83"><text class="gr" x="158" y="803">&lt;average signing<tspan x="158" dy="4.6">time&gt;</tspan></text></g>
<g id="v84"><text class="gr" x="113" y="823">&lt;reference utilization<tspan x="113" dy="4.6">and realization time&gt;</tspan></text></g>
<g id="v85"><text class="gr" x="160" y="823">&lt;average utilization and<tspan x="160" dy="4.6">realization time&gt;</tspan></text></g>
<g id="v86"><text class="b" x="214" y="826">total time performance<tspan x="214" dy="4.6">indicator</tspan></text></g>
<g id="v87"><text class="b" x="279" y="826">total time performance<tspan x="279" dy="4.6">indicator[fourth]</tspan></text></g>
<g id="v88"><text class="gr" x="111" y="845">&lt;reference LMA<tspan x="111" dy="4.6">monitoring time&gt;</tspan></text></g>
<g id="v89"><text class="gr" x="155" y="846">&lt;LMA monitoring<tspan x="155" dy="4.6">time&gt;</tspan></text></g>
<g id="v90"><text class="gr" x="111" y="867">&lt;reference time to<tspan x="111" dy="4.6">refund&gt;</tspan></text></g>
<g id="v91"><text class="gr" x="151" y="871">&lt;time to refund&gt;</text></g>
<g id="v92"><text class="gr" x="110" y="893">&lt;reference time to<tspan x="110" dy="4.6">prepare calls&gt;</tspan></text></g>
<g id="v93"><text class="gr" x="157" y="892">&lt;time to prepare<tspan x="157" dy="4.6">calls&gt;</tspan></text></g>
<g id="v94"><text class="gr" x="111" y="916">&lt;reference signing<tspan x="111" dy="4.6">time&gt;</tspan></text></g>
<g id="v95"><text class="gr" x="153" y="914">&lt;average signing<tspan x="153" dy="4.6">time&gt;</tspan></text></g>
<g id="v96"><text class="gr" x="111" y="936">&lt;reference utilization<tspan x="111" dy="4.6">and realization time&gt;</tspan></text></g>
<g id="v97"><text class="gr" x="156" y="933">&lt;average utilization and<tspan x="156" dy="4.6">realization time&gt;</tspan></text></g>
<g id="v98"><text class="k" x="59" y="935">time performance<tspan x="59" dy="4.6">rate indicator</tspan></text></g>
<g id="v99"><text class="b" x="215" y="936">total time performance<tspan x="215" dy="4.6">rate indicator</tspan></text></g>
<g id="v100"><text class="b" x="280" y="936">total time performance<tspan x="280" dy="4.6">rate indicator[fourth]</tspan></text></g>
<g id="v101"><text class="k" x="16" y="936">race rate<tspan x="16" dy="4.6">[tenth]</tspan></text></g>
<g id="v102"><text class="gr" x="111" y="952">&lt;reference LMA<tspan x="111" dy="4.6">monitoring time&gt;</tspan></text></g>
<g id="v103"><text class="gr" x="153" y="955">&lt;LMA monitoring<tspan x="153" dy="4.6">time&gt;</tspan></text></g>
<g id="v104"><text class="gr" x="111" y="976">&lt;reference time to<tspan x="111" dy="4.6">refund&gt;</tspan></text></g>
<g id="v105"><text class="gr" x="154" y="978">&lt;time to refund&gt;</text></g>

<g id="v106"><text class="gr" x="442" y="25">&lt;Time&gt;</text></g>
<g id="v107"><text class="b" x="479" y="25">playing switch</text></g>
<g id="v108"><text class="b" x="463" y="45">playing condition</text></g>
<g id="v109"><text class="k" x="646" y="34">&lt;institution<tspan x="646" dy="4.6">quality&gt;</tspan></text></g>
<g id="v110"><text class="k" x="598" y="51">public private potential<tspan x="598" dy="4.6">partnership factor</tspan></text></g>
<g id="v111"><text class="k" x="646" y="62">public potential<tspan x="646" dy="4.6">beneficiaries</tspan></text></g>
<g id="v112"><text class="k" x="690" y="61">international<tspan x="690" dy="4.6">coordination factor</tspan></text></g>
<g id="v113"><text class="k" x="572" y="86">private potential<tspan x="572" dy="4.6">beneficiaries</tspan></text></g>
<g id="v114"><text class="k" x="623" y="86">public private<tspan x="623" dy="4.6">potential partnerships</tspan></text></g>
<g id="v115"><text class="k" x="670" y="87">total public potential<tspan x="670" dy="4.6">beneficiaries</tspan></text></g>
<g id="v116"><text class="k" x="382" y="117">&lt;Perceived<tspan x="382" dy="4.6">absorption gap&gt;</tspan></text></g>
<g id="v117"><text class="k" x="346" y="130">maximum pressure to<tspan x="346" dy="4.6">increase calls scope</tspan></text></g>
<g id="v118"><text class="r" x="427" y="132">acceptable absorption gap<tspan x="427" dy="4.6">before triggering calls'</tspan><tspan x="427" dy="4.6">extension policy</tspan></text></g>
<g id="v119"><text class="k" x="520" y="129">reference acceptable<tspan x="520" dy="4.6">interest rate</tspan></text></g>
<g id="v120"><text class="k" x="484" y="140">interest rate</text></g>
<g id="v121"><text class="gr" x="586" y="136">&lt;total beneficiaries<tspan x="586" dy="4.6">accepted with a project&gt;</tspan></text></g>
<g id="v122"><text class="b" x="623" y="144">total potential<tspan x="623" dy="4.6">beneficiaries</tspan></text></g>
<g id="v123"><text class="b" x="460" y="157">reference acceptable<tspan x="460" dy="4.6">interest rate playable</tspan></text></g>
<g id="v124"><text class="y" x="520" y="155">effect of interest rate on external<tspan x="520" dy="4.6">resources availability for</tspan><tspan x="520" dy="4.6">beneficiaries co finance</tspan></text></g>
<g id="v125"><text class="y" x="376" y="166">pressure to increase calls<tspan x="376" dy="4.6">scope to increase</tspan><tspan x="376" dy="4.6">absorption</tspan></text></g>
<g id="v126"><text class="b" x="421" y="183">acceptable absorption gap<tspan x="421" dy="4.6">before triggering calls' extension</tspan><tspan x="421" dy="4.6">policy playable</tspan></text></g>
<g id="v127"><text class="gr" x="456" y="175">&lt;playing<tspan x="456" dy="4.6">conditions&gt;</tspan></text></g>
<g id="v128"><text class="gr" x="373" y="198">&lt;playing<tspan x="373" dy="4.6">conditions&gt;</tspan></text></g>
<g id="v129"><text class="k" x="497" y="187">percentage of<tspan x="497" dy="4.6">beneficiary co financing</tspan></text></g>
<g id="v130"><text class="b" x="501" y="203">percentage of beneficiary<tspan x="501" dy="4.6">co financing playable</tspan></text></g>
<g id="v131"><text class="g" x="560" y="202">co financing capability<tspan x="560" dy="4.6">impact on applications</tspan></text></g>
<g id="v132"><text class="k" x="600" y="177">&lt;adjustment year&gt;</text></g>
<g id="v133"><text class="k" x="423" y="215">&lt;payments to<tspan x="423" dy="4.6">beneficiaries duration&gt;</tspan></text></g>
<g id="v134"><text class="k" x="474" y="217">time to perceive<tspan x="474" dy="4.6">absorption gap</tspan></text></g>
<g id="v135"><text class="k" x="527" y="236">perceived absorption<tspan x="527" dy="4.6">gap change rate</tspan></text></g>
<g id="v136"><text class="k" x="392" y="233">&lt;policy cycle<tspan x="392" dy="4.6">starting time&gt;</tspan></text></g>
<g id="v137"><text class="k" x="453" y="229">&lt;Time&gt;</text></g>
<g id="v138"><text class="k" x="429" y="253">ideal payments to<tspan x="429" dy="4.6">beneficiaries</tspan></text></g>
<g id="v139"><text class="k" x="484" y="249">ideal absorption<tspan x="484" dy="4.6">rate</tspan></text></g>
<g id="v140"><text class="g" x="527" y="259">absorption gap</text></g>
<g id="v141"><text class="b" x="348" y="248">OP co finance<tspan x="348" dy="4.6">percentage change</tspan><tspan x="348" dy="4.6">playable</tspan></text></g>
<g id="v142"><text class="b" x="390" y="260">OP co finance change<tspan x="390" dy="4.6">year playable</tspan></text></g>
<g id="v143"><text class="k" x="365" y="278">OP co finance<tspan x="365" dy="4.6">percentage change</tspan></text></g>
<g id="v144"><text class="k" x="403" y="283">OP co finance<tspan x="403" dy="4.6">change year</tspan></text></g>
<g id="v145"><text class="k" x="596" y="254">reference probability a<tspan x="596" dy="4.6">beneficiary is interested in</tspan><tspan x="596" dy="4.6">the call</tspan></text></g>
<g id="v146"><text class="k" x="571" y="276">&lt;pressure to increase calls<tspan x="571" dy="4.6">scope to increase</tspan><tspan x="571" dy="4.6">absorption&gt;</tspan></text></g>
<g id="v147"><text class="b" x="633" y="278">reference probability a<tspan x="633" dy="4.6">beneficiary is interested in the</tspan><tspan x="633" dy="4.6">call playable</tspan></text></g>
<g id="v148"><text class="b" x="482" y="272">EU funds updated<tspan x="482" dy="4.6">absorption rate</tspan></text></g>
<g id="v149"><text class="gr" x="495" y="292">&lt;EU funds updated<tspan x="495" dy="4.6">percentage&gt;</tspan></text></g>
<g id="v150"><text class="k" x="445" y="305">EU total<tspan x="445" dy="4.6">commitments</tspan></text></g>
<g id="v151"><text class="k" x="495" y="314">payments to<tspan x="495" dy="4.6">beneficiaries rate EU</tspan><tspan x="495" dy="4.6">funds</tspan></text></g>
<g id="v152"><text class="k" x="556" y="298">&lt;call quality&gt;</text></g>
<g id="v153"><text class="k" x="596" y="303">call quality effect on<tspan x="596" dy="4.6">probability a beneficiary is</tspan><tspan x="596" dy="4.6">interested in the call</tspan></text></g>
<g id="v154"><text class="r" x="384" y="307">OP updated<tspan x="384" dy="4.6">co finance percentage</tspan></text></g>
<g id="v155"><text class="y" x="657" y="312">probability a beneficiary<tspan x="657" dy="4.6">is interested in the call</tspan></text></g>
<g id="v156"><text class="gr" x="668" y="281">&lt;playing<tspan x="668" dy="4.6">conditions&gt;</tspan></text></g>
<g id="v157"><text class="k" x="418" y="322">&lt;final payments<tspan x="418" dy="4.6">percentage&gt;</tspan></text></g>
<g id="v158"><text class="k" x="594" y="324">reference call quality for<tspan x="594" dy="4.6">probability a beneficiary is</tspan><tspan x="594" dy="4.6">interested in the call</tspan></text></g>
<g id="v159"><text class="k" x="714" y="105">discouraged beneficiaries<tspan x="714" dy="4.6">reconsidering EU funding</tspan><tspan x="714" dy="4.6">again time</tspan></text></g>
<g id="v160"><text class="k" x="664" y="146">discouraged beneficiaries<tspan x="664" dy="4.6">reconsidering EU funding</tspan><tspan x="664" dy="4.6">again rate</tspan></text></g>
<g id="v161"><text class="k" x="690" y="162">&lt;projects rejected<tspan x="690" dy="4.6">rate&gt;</tspan></text></g>
<g id="v162"><text class="k" x="741" y="156">discouraged<tspan x="741" dy="4.6">beneficiaries mechanism</tspan><tspan x="741" dy="4.6">switch</tspan></text></g>
<g id="v163"><text class="k" x="737" y="185">beneficiary per<tspan x="737" dy="4.6">project</tspan></text></g>
<g id="v164"><text class="k" x="705" y="179">discouraged<tspan x="705" dy="4.6">beneficiaries rate</tspan></text></g>
<g id="v165"><text class="k" x="774" y="143">total beneficiaries<tspan x="774" dy="4.6">accepted with a project</tspan></text></g>
<g id="v166"><text class="k" x="721" y="207">beneficiaries with an<tspan x="721" dy="4.6">accepted project rate</tspan></text></g>
<g id="v167"><text class="k" x="696" y="224">&lt;projects<tspan x="696" dy="4.6">accepted rate&gt;</tspan></text></g>
<g id="v168"><text class="k" x="722" y="240">beneficiaries with a<tspan x="722" dy="4.6">completed project returning</tspan><tspan x="722" dy="4.6">potential rate</tspan></text></g>
<g id="v169"><text class="y" x="645" y="199">total potential<tspan x="645" dy="4.6">beneficiaries change</tspan><tspan x="645" dy="4.6">rate</tspan></text></g>
<g id="v170"><text class="r" x="648" y="216">total potential<tspan x="648" dy="4.6">beneficiaries available</tspan></text></g>
<g id="v171"><text class="k" x="611" y="214">&lt;Discouraged<tspan x="611" dy="4.6">beneficiaries&gt;</tspan></text></g>
<g id="v172"><text class="k" x="643" y="235">&lt;total beneficiaries<tspan x="643" dy="4.6">accepted with a</tspan><tspan x="643" dy="4.6">project&gt;</tspan></text></g>
<g id="v173"><text class="k" x="693" y="253">&lt;total time to complete<tspan x="693" dy="4.6">the EU funded process&gt;</tspan></text></g>
<g id="v174"><text class="gr" x="739" y="258">&lt;playing<tspan x="739" dy="4.6">conditions&gt;</tspan></text></g>
<g id="v175"><text class="b" x="780" y="258">total potential<tspan x="780" dy="4.6">beneficiaries playable</tspan></text></g>
<g id="v176"><text class="k" x="723" y="269">beneficiary's project<tspan x="723" dy="4.6">applications per call</tspan></text></g>
<g id="v177"><text class="y" x="723" y="289">total potential projects<tspan x="723" dy="4.6">applications per call</tspan></text></g>
<g id="v178"><text class="k" x="725" y="310">total potential project applications<tspan x="725" dy="4.6">per call of funding opportunity</tspan><tspan x="725" dy="4.6">aware beneficiaries</tspan></text></g>

<g id="v179"><text class="k" x="922" y="42">&lt;Perceived<tspan x="922" dy="4.6">absorption gap&gt;</tspan></text></g>
<g id="v180"><text class="k" x="965" y="43">pressure to increase<tspan x="965" dy="4.6">LMA communication</tspan><tspan x="965" dy="4.6">policy switch</tspan></text></g>
<g id="v181"><text class="k" x="899" y="62">maximum pressure to<tspan x="899" dy="4.6">increase LMA</tspan><tspan x="899" dy="4.6">communication</tspan></text></g>
<g id="v182"><text class="k" x="1014" y="26">&lt;acceptable absorption gap<tspan x="1014" dy="4.6">before triggering 'call</tspan><tspan x="1014" dy="4.6">policies'&gt;</tspan></text></g>
<g id="v183"><text class="b" x="1064" y="11">acceptable absorption gap<tspan x="1064" dy="4.6">before triggering 'call policies'</tspan><tspan x="1064" dy="4.6">playable</tspan></text></g>
<g id="v184"><text class="gr" x="1056" y="53">&lt;playing<tspan x="1056" dy="4.6">conditions&gt;</tspan></text></g>
<g id="v185"><text class="g" x="962" y="79">pressure to increase LMA<tspan x="962" dy="4.6">communication to increase</tspan><tspan x="962" dy="4.6">absorption</tspan></text></g>
<g id="v186"><text class="b" x="803" y="76">reference media communication of<tspan x="803" dy="4.6">EU funds probability of knowledge</tspan><tspan x="803" dy="4.6">of EU funding opportunities</tspan></text></g>
<g id="v187"><text class="b" x="786" y="101">reference media communication of EU<tspan x="786" dy="4.6">funds probability of knowledge of EU</tspan><tspan x="786" dy="4.6">funding opportunities playable</tspan></text></g>
<g id="v188"><text class="b" x="896" y="96">reference local stakeholders<tspan x="896" dy="4.6">umbrella organisations involvement</tspan><tspan x="896" dy="4.6">in promotion probability playable</tspan></text></g>
<g id="v189"><text class="b" x="866" y="114">reference local stakeholders<tspan x="866" dy="4.6">umbrella organisation involvement</tspan><tspan x="866" dy="4.6">in promotion probability</tspan></text></g>
<g id="v190"><text class="k" x="943" y="114">reference LMA<tspan x="943" dy="4.6">communication of EU</tspan><tspan x="943" dy="4.6">funds</tspan></text></g>
<g id="v191"><text class="k" x="1000" y="113">LMA communication<tspan x="1000" dy="4.6">of EU funds</tspan></text></g>
<g id="v192"><text class="k" x="1028" y="86">&lt;administrative<tspan x="1028" dy="4.6">capacity&gt;</tspan></text></g>
<g id="v193"><text class="k" x="1039" y="105">&lt;policy cycle<tspan x="1039" dy="4.6">starting&gt;</tspan></text></g>
<g id="v194"><text class="k" x="1036" y="127">&lt;calls stopping&gt;</text></g>
<g id="v195"><text class="k" x="1079" y="111">reference effect for reaching<tspan x="1079" dy="4.6">max effect of LMA</tspan><tspan x="1079" dy="4.6">communication of EU funds</tspan></text></g>
<g id="v196"><text class="b" x="1128" y="141">reference effect for reaching max<tspan x="1128" dy="4.6">effect of LMA communication of</tspan><tspan x="1128" dy="4.6">EU funds playable</tspan></text></g>
<g id="v197"><text class="k" x="988" y="144">effect of LMA<tspan x="988" dy="4.6">communication of EU</tspan><tspan x="988" dy="4.6">funds</tspan></text></g>
<g id="v198"><text class="gr" x="880" y="139">&lt;playing<tspan x="880" dy="4.6">conditions&gt;</tspan></text></g>
<g id="v199"><text class="g" x="877" y="160">local stakeholders umbrella<tspan x="877" dy="4.6">organisations involvement in</tspan><tspan x="877" dy="4.6">promotion probability</tspan></text></g>
<g id="v200"><text class="k" x="932" y="153">local stakeholders umbrella<tspan x="932" dy="4.6">organisation promotion</tspan><tspan x="932" dy="4.6">probability weight</tspan></text></g>
<g id="v201"><text class="k" x="934" y="173">LMA communication of<tspan x="934" dy="4.6">EU funds probability</tspan><tspan x="934" dy="4.6">weight</tspan></text></g>
<g id="v202"><text class="g" x="1000" y="179">LMA communication of EU funds<tspan x="1000" dy="4.6">probability of knowledge of EU</tspan><tspan x="1000" dy="4.6">funding opportunities</tspan></text></g>
<g id="v203"><text class="g" x="852" y="193">media communication of EU funds<tspan x="852" dy="4.6">probability of knowledge of EU</tspan><tspan x="852" dy="4.6">funding opportunities</tspan></text></g>
<g id="v204"><text class="k" x="900" y="214">probability of knowledge of<tspan x="900" dy="4.6">EU funding opportunities</tspan></text></g>
<g id="v205"><text class="k" x="834" y="218">media communication of<tspan x="834" dy="4.6">EU funds probability</tspan><tspan x="834" dy="4.6">weight</tspan></text></g>
<g id="v206"><text class="k" x="958" y="214">word of mouth<tspan x="958" dy="4.6">probability weight</tspan></text></g>
<g id="v207"><text class="b" x="818" y="237">reference effect for reaching max<tspan x="818" dy="4.6">effect of intermediary consultancy</tspan><tspan x="818" dy="4.6">companies playable</tspan></text></g>
<g id="v208"><text class="k" x="920" y="241">intermediary consultancy<tspan x="920" dy="4.6">companies probability</tspan><tspan x="920" dy="4.6">weight</tspan></text></g>
<g id="v209"><text class="g" x="977" y="239">word of mouth probability of<tspan x="977" dy="4.6">knowledge of EU funding</tspan><tspan x="977" dy="4.6">opportunities</tspan></text></g>
<g id="v210"><text class="gr" x="939" y="264">&lt;playing<tspan x="939" dy="4.6">conditions&gt;</tspan></text></g>
<g id="v211"><text class="k" x="975" y="277">switch of percentage of<tspan x="975" dy="4.6">citizens aware of EU role in</tspan><tspan x="975" dy="4.6">Cohesion Policy</tspan></text></g>
<g id="v212"><text class="g" x="884" y="254">intermediary consultancy<tspan x="884" dy="4.6">companies probability of</tspan><tspan x="884" dy="4.6">knowledge of EU funding</tspan><tspan x="884" dy="4.6">opportunities</tspan></text></g>
<g id="v213"><text class="k" x="823" y="273">reference effect for reaching max<tspan x="823" dy="4.6">effect of intermediary</tspan><tspan x="823" dy="4.6">consultancy companies</tspan></text></g>
<g id="v214"><text class="k" x="911" y="281">effect of intermediary<tspan x="911" dy="4.6">consultancy companies</tspan></text></g>
<g id="v215"><text class="k" x="868" y="293">reference number of<tspan x="868" dy="4.6">intermediary consultancy</tspan><tspan x="868" dy="4.6">companies</tspan></text></g>
<g id="v216"><text class="k" x="925" y="300">regional intermediary<tspan x="925" dy="4.6">consultancy companies</tspan></text></g>
<g id="v217"><text class="b" x="807" y="314">regional intermediary<tspan x="807" dy="4.6">consultancy companies</tspan><tspan x="807" dy="4.6">playable</tspan></text></g>
<g id="v218"><text class="g" x="856" y="317">effect of intermediary<tspan x="856" dy="4.6">consultancy companies on</tspan><tspan x="856" dy="4.6">applications</tspan></text></g>
<g id="v219"><text class="k" x="1129" y="167">&lt;Total projects<tspan x="1129" dy="4.6">completed&gt;</tspan></text></g>
<g id="v220"><text class="g" x="1075" y="184">density of beneficiaries<tspan x="1075" dy="4.6">who benefited of EU funds</tspan></text></g>
<g id="v221"><text class="k" x="1137" y="190">&lt;Potential<tspan x="1137" dy="4.6">beneficiaries&gt;</tspan></text></g>
<g id="v222"><text class="k" x="1013" y="204">effect of word of<tspan x="1013" dy="4.6">mouth</tspan></text></g>
<g id="v223"><text class="g" x="1069" y="202">reference density of beneficiaries<tspan x="1069" dy="4.6">who benefited of EU fund to</tspan><tspan x="1069" dy="4.6">activate word of mouth effect</tspan></text></g>
<g id="v224"><text class="k" x="1069" y="226">reference effect for reaching<tspan x="1069" dy="4.6">max effect of word of mouth</tspan></text></g>
<g id="v225"><text class="b" x="1077" y="244">reference effect for reaching<tspan x="1077" dy="4.6">max effect of word of mouth</tspan><tspan x="1077" dy="4.6">playable</tspan></text></g>
<g id="v226"><text class="k" x="1041" y="266">&lt;percentage of citizens<tspan x="1041" dy="4.6">aware of EU role in</tspan><tspan x="1041" dy="4.6">Cohesion Policy&gt;</tspan></text></g>
<g id="v227"><text class="k" x="1281" y="288">total time to complete<tspan x="1281" dy="4.6">the EU funded process</tspan></text></g>
<g id="v228"><text class="gr" x="1218" y="302">&lt;time to refund&gt;</text></g>
<g id="v229"><text class="k" x="1254" y="319">&lt;average<tspan x="1254" dy="4.6">evaluation time&gt;</tspan></text></g>
<g id="v230"><text class="k" x="1290" y="319">&lt;average signing<tspan x="1290" dy="4.6">time&gt;</tspan></text></g>

<g id="v231"><rect x="349" y="340" width="37" height="12" fill="#aaffff"/><text class="g" x="367" y="344.5">total funds updated<tspan x="367" dy="4.6">absorption rate</tspan></text></g>
<g id="v232"><text class="k" x="410" y="343">total actual<tspan x="410" dy="4.6">structured funds</tspan></text></g>
<g id="v233"><text class="k" x="424" y="331">&lt;policy accountability<tspan x="424" dy="4.6">final stopping&gt;</tspan></text></g>
<g id="v234"><text class="gr" x="395" y="360">&lt;Payments to<tspan x="395" dy="4.6">beneficiaries per cycle&gt;</tspan></text></g>
<g id="v235"><text class="k" x="441" y="349">&lt;final<tspan x="441" dy="4.6">payments rate</tspan><tspan x="441" dy="4.6">per cycle&gt;</tspan></text></g>
<g id="v236"><text class="g" x="483" y="353">payments to<tspan x="483" dy="4.6">beneficiaries rate</tspan></text></g>
<g id="v237"><text class="k" x="573" y="347">final payments<tspan x="573" dy="4.6">mechanism switch</tspan></text></g>
<g id="v238"><text class="k" x="456" y="368">&lt;Projects awaiting to<tspan x="456" dy="4.6">be refunded&gt;</tspan></text></g>
<g id="v239"><text class="k" x="522" y="367">&lt;pre finance rate<tspan x="522" dy="4.6">per cycle&gt;</tspan></text></g>
<g id="v240"><text class="k" x="369" y="376">&lt;policy cycle<tspan x="369" dy="4.6">starting time&gt;</tspan></text></g>
<g id="v241"><text class="k" x="407" y="377">policy cycle<tspan x="407" dy="4.6">starting</tspan></text></g>
<g id="v242"><text class="k" x="486" y="381">&lt;average project<tspan x="486" dy="4.6">value&gt;</tspan></text></g>
<g id="v243"><text class="k" x="555" y="376">&lt;committed funds in<tspan x="555" dy="4.6">projects&gt;</tspan></text></g>
<g id="v244"><text class="b" x="370" y="391">date of EU regulation<tspan x="370" dy="4.6">approval playable</tspan></text></g>
<g id="v245"><text class="k" x="507" y="394">total committed<tspan x="507" dy="4.6">funds</tspan></text></g>
<g id="v246"><text class="k" x="570" y="394">committed funds<tspan x="570" dy="4.6">in calls</tspan></text></g>
<g id="v247"><text class="g" x="375" y="415">date of EU<tspan x="375" dy="4.6">regulation approval</tspan></text></g>
<g id="v248"><text class="k" x="435" y="413">conditionality before LMA<tspan x="435" dy="4.6">can start manage EU funds</tspan></text></g>
<g id="v249"><text class="k" x="478" y="416">LMA's funds<tspan x="478" dy="4.6">available</tspan></text></g>
<g id="v250"><text class="gr" x="520" y="417">&lt;playing<tspan x="520" dy="4.6">conditions&gt;</tspan></text></g>
<g id="v251"><text class="k" x="562" y="417">average call value</text></g>
<g id="v252"><text class="g" x="392" y="430">delays involved before<tspan x="392" dy="4.6">LMA can start manage EU</tspan><tspan x="392" dy="4.6">funds</tspan></text></g>
<g id="v253"><text class="y" x="336" y="445">LMA's OP<tspan x="336" dy="4.6">development time</tspan></text></g>
<g id="v254"><text class="b" x="446" y="439">stakeholders partnership<tspan x="446" dy="4.6">agreement time (calls'</tspan><tspan x="446" dy="4.6">criteria) playable</tspan></text></g>
<g id="v255"><text class="k" x="512" y="444">LMA funds<tspan x="512" dy="4.6">allocated in calls</tspan></text></g>
<g id="v256"><text class="g" x="562" y="439">LMA allocation of<tspan x="562" dy="4.6">EU funds in calls</tspan></text></g>
<g id="v257"><text class="g" x="392" y="456">stakeholders partnership<tspan x="392" dy="4.6">agreement time (calls'</tspan><tspan x="392" dy="4.6">criteria)</tspan></text></g>
<g id="v258"><text class="g" x="344" y="466">EU OP average<tspan x="344" dy="4.6">approval time</tspan></text></g>
<g id="v259"><text class="gr" x="474" y="457">&lt;acceptable absorption gap<tspan x="474" dy="4.6">before triggering 'call policies'</tspan><tspan x="474" dy="4.6">playable&gt;</tspan></text></g>
<g id="v260"><text class="k" x="527" y="464">&lt;calls stopping&gt;</text></g>
<g id="v261"><text class="gr" x="589" y="472">&lt;OP co finance<tspan x="589" dy="4.6">availability conditionality&gt;</tspan></text></g>
<g id="v262"><text class="k" x="427" y="468">acceptable absorption gap<tspan x="427" dy="4.6">before triggering 'call</tspan><tspan x="427" dy="4.6">policies'</tspan></text></g>
<g id="v263"><text class="k" x="522" y="482">political stability and<tspan x="522" dy="4.6">efficiency</tspan></text></g>
<g id="v264"><text class="k" x="398" y="483">increasing calls<tspan x="398" dy="4.6">policy switch</tspan></text></g>
<g id="v265"><text class="k" x="610" y="485">&lt;policy cycle<tspan x="610" dy="4.6">starting&gt;</tspan></text></g>
<g id="v266"><text class="k" x="441" y="497">pressure to increase LMA<tspan x="441" dy="4.6">funds allocated in calls to</tspan><tspan x="441" dy="4.6">increase absorption</tspan></text></g>
<g id="v267"><text class="k" x="384" y="502">maximum pressure to<tspan x="384" dy="4.6">increase funds allocated</tspan></text></g>
<g id="v268"><text class="b" x="524" y="501">political stability and<tspan x="524" dy="4.6">efficiency playable</tspan></text></g>
<g id="v269"><text class="b" x="345" y="529">EU OP average<tspan x="345" dy="4.6">approval time playable</tspan></text></g>
<g id="v270"><text class="g" x="486" y="517">percentage of LMA's funds<tspan x="486" dy="4.6">available allocated in calls</tspan></text></g>
<g id="v271"><text class="k" x="388" y="521">&lt;Perceived<tspan x="388" dy="4.6">absorption gap&gt;</tspan></text></g>
<g id="v272"><text class="gr" x="535" y="522">&lt;political stability and<tspan x="535" dy="4.6">efficiency conditionality&gt;</tspan></text></g>
<g id="v273"><text class="k" x="569" y="517">time to prepare<tspan x="569" dy="4.6">call</tspan></text></g>
<g id="v274"><text class="g" x="623" y="517">reference time to<tspan x="623" dy="4.6">prepare call</tspan></text></g>
<g id="v275"><text class="k" x="441" y="530">&lt;policy cycle<tspan x="441" dy="4.6">starting time&gt;</tspan></text></g>
<g id="v276"><text class="gr" x="403" y="538">&lt;playing<tspan x="403" dy="4.6">conditions&gt;</tspan></text></g>
<g id="v277"><text class="k" x="454" y="548">&lt;policy cycle<tspan x="454" dy="4.6">stopping time&gt;</tspan></text></g>
<g id="v278"><text class="k" x="530" y="546">&lt;Time&gt;</text></g>
<g id="v279"><text class="g" x="512" y="553">allocation speed<tspan x="512" dy="4.6">coefficient</tspan></text></g>
<g id="v280"><text class="b" x="623" y="543">reference time to<tspan x="623" dy="4.6">prepare call playable</tspan></text></g>
<g id="v281"><text class="k" x="473" y="561">year after which all funds<tspan x="473" dy="4.6">are allocated in calls</tspan></text></g>
<g id="v282"><text class="b" x="547" y="570">allocation speed<tspan x="547" dy="4.6">coefficient playable</tspan></text></g>
<g id="v283"><text class="b" x="374" y="576">political stability and<tspan x="374" dy="4.6">efficiency conditionality</tspan></text></g>
<g id="v284"><text class="k" x="388" y="613">OP co finance<tspan x="388" dy="4.6">availability conditionality</tspan></text></g>
<g id="v285"><text class="k" x="456" y="592">&lt;LMA funds<tspan x="456" dy="4.6">allocated in calls&gt;</tspan></text></g>
<g id="v286"><text class="k" x="516" y="592">&lt;committed funds<tspan x="516" dy="4.6">in calls&gt;</tspan></text></g>
<g id="v287"><text class="k" x="432" y="620">&lt;committed funds in<tspan x="432" dy="4.6">projects&gt;</tspan></text></g>
<g id="v288"><text class="k" x="494" y="615">total funds managed by<tspan x="494" dy="4.6">LMA in a specific point of</tspan><tspan x="494" dy="4.6">time</tspan></text></g>
<g id="v289"><text class="k" x="544" y="616">&lt;policy closing<tspan x="544" dy="4.6">stopping&gt;</tspan></text></g>
<g id="v290"><text class="k" x="494" y="644">total projects potentially<tspan x="494" dy="4.6">managed by LMA in a specific</tspan><tspan x="494" dy="4.6">point of time</tspan></text></g>
<g id="v291"><text class="k" x="566" y="646">skilled staff member<tspan x="566" dy="4.6">projects productivity</tspan></text></g>
<g id="v292"><text class="b" x="605" y="649">skilled staff member<tspan x="605" dy="4.6">projects productivity</tspan><tspan x="605" dy="4.6">playable</tspan></text></g>
<g id="v293"><text class="b" x="592" y="585">administrative capacity<tspan x="592" dy="4.6">impact on calls' quality</tspan></text></g>
<g id="v294"><text class="b" x="578" y="604">percentage points of OP<tspan x="578" dy="4.6">quality deterioration</tspan></text></g>
<g id="v295"><text class="k" x="632" y="608">call quality</text></g>
<g id="v296"><text class="g" x="608" y="625">OP quality</text></g>
<g id="v297"><text class="b" x="579" y="629">OP quality<tspan x="579" dy="4.6">playable</tspan></text></g>
<g id="v298"><text class="b" x="642" y="629">changing time for OP<tspan x="642" dy="4.6">quality deterioration</tspan></text></g>
<g id="v299"><text class="k" x="628" y="345">&lt;LMA monitoring<tspan x="628" dy="4.6">time&gt;</tspan></text></g>
<g id="v300"><text class="k" x="598" y="364">declared time to get<tspan x="598" dy="4.6">refunded</tspan></text></g>
<g id="v301"><text class="k" x="647" y="366">effect of time to get<tspan x="647" dy="4.6">refunded on project</tspan><tspan x="647" dy="4.6">applications</tspan></text></g>
<g id="v302"><text class="k" x="620" y="382">average call<tspan x="620" dy="4.6">duration</tspan></text></g>
<g id="v303"><text class="k" x="631" y="403">LMA's calls for EU<tspan x="631" dy="4.6">funds expired</tspan></text></g>
<g id="v304"><text class="k" x="655" y="394">&lt;average<tspan x="655" dy="4.6">evaluation time&gt;</tspan></text></g>
<g id="v305"><text class="k" x="658" y="419">&lt;projects<tspan x="658" dy="4.6">accepted rate&gt;</tspan></text></g>
<g id="v306"><text class="k" x="635" y="441">LMA finished calls</text></g>
<g id="v307"><text class="k" x="632" y="461">average number of<tspan x="632" dy="4.6">projects per call</tspan></text></g>
<g id="v308"><text class="gr" x="540" y="331">&lt;time to refund&gt;</text></g>
<g id="v309"><text class="k" x="668" y="330">local stakeholders umbrella<tspan x="668" dy="4.6">organisations involvement in</tspan><tspan x="668" dy="4.6">calls' criteria weight</tspan></text></g>
<g id="v310"><text class="b" x="676" y="353">importance of time<tspan x="676" dy="4.6">delays on risk taken</tspan></text></g>
<g id="v311"><text class="b" x="686" y="380">reference risk taken<tspan x="686" dy="4.6">fraction playable</tspan></text></g>
<g id="v312"><text class="k" x="676" y="437">reference risk taken<tspan x="676" dy="4.6">fraction</tspan></text></g>
<g id="v313"><text class="k" x="680" y="461">&lt;average call<tspan x="680" dy="4.6">value&gt;</tspan></text></g>
<g id="v314"><text class="gr" x="660" y="407">&lt;playing<tspan x="660" dy="4.6">conditions&gt;</tspan></text></g>
<g id="v315"><text class="k" x="661" y="487">&lt;average project<tspan x="661" dy="4.6">value&gt;</tspan></text></g>
<g id="v316"><text class="b" x="657" y="530">reference submission<tspan x="657" dy="4.6">time playable</tspan></text></g>
<g id="v317"><text class="g" x="644" y="557">reference<tspan x="644" dy="4.6">submission time</tspan></text></g>
<g id="v318"><text class="k" x="672" y="577">&lt;actual beneficiary<tspan x="672" dy="4.6">staff skills capacity&gt;</tspan></text></g>

<g id="v319"><text class="k" x="733" y="528">&lt;LMA's calls for<tspan x="733" dy="4.6">EU funds&gt;</tspan></text></g>
<g id="v320"><text class="k" x="730" y="548">&lt;average number of<tspan x="730" dy="4.6">projects per call&gt;</tspan></text></g>
<g id="v321"><text class="k" x="684" y="549">average<tspan x="684" dy="4.6">submission time</tspan></text></g>
<g id="v322"><text class="b" x="714" y="565">importance of call<tspan x="714" dy="4.6">support in submission</tspan><tspan x="714" dy="4.6">time</tspan></text></g>
<g id="v323"><text class="k" x="700" y="590">call support</text></g>
<g id="v324"><text class="k" x="687" y="516">submission rate</text></g>
<g id="v325"><text class="k" x="757" y="474">projects rejected<tspan x="757" dy="4.6">rate</tspan></text></g>
<g id="v326"><text class="k" x="796" y="518">projects<tspan x="796" dy="4.6">evaluated rate</tspan></text></g>
<g id="v327"><text class="k" x="907" y="517">contracting rate</text></g>
<g id="v328"><text class="k" x="1005" y="518">utilization and<tspan x="1005" dy="4.6">realization rate</tspan></text></g>
<g id="v329"><text class="k" x="1082" y="493">discovered irregular<tspan x="1082" dy="4.6">projects rate</tspan></text></g>
<g id="v330"><text class="k" x="1106" y="518">LMA documentation<tspan x="1106" dy="4.6">control rate</tspan></text></g>
<g id="v331"><text class="g" x="1200" y="519">projects refunded rate</text></g>
<g id="v332"><text class="gr" x="1172" y="538">&lt;final payments<tspan x="1172" dy="4.6">percentage&gt;</tspan></text></g>
<g id="v333"><text class="gr" x="1224" y="539">&lt;adjustment time&gt;</text></g>
<g id="v334"><text class="gr" x="1200" y="549">&lt;EU funds updated<tspan x="1200" dy="4.6">absorption rate&gt;</tspan></text></g>
<g id="v335"><text class="k" x="1020" y="493">&lt;LMA monitoring<tspan x="1020" dy="4.6">time&gt;</tspan></text></g>
<g id="v336"><text class="k" x="1040" y="467">committed funds in<tspan x="1040" dy="4.6">projects</tspan></text></g>
<g id="v337"><text class="k" x="1035" y="533">average utilization and<tspan x="1035" dy="4.6">realization time</tspan></text></g>
<g id="v338"><text class="k" x="1067" y="543">fraction of discovered<tspan x="1067" dy="4.6">irregular projects due to</tspan><tspan x="1067" dy="4.6">monitoring</tspan></text></g>
<g id="v339"><text class="gr" x="1026" y="549">&lt;political stability and<tspan x="1026" dy="4.6">efficiency conditionality&gt;</tspan></text></g>
<g id="v340"><text class="gr" x="1022" y="559">&lt;OP co finance<tspan x="1022" dy="4.6">availability conditionality&gt;</tspan></text></g>
<g id="v341"><text class="k" x="1107" y="557">LMA monitoring<tspan x="1107" dy="4.6">time</tspan></text></g>
<g id="v342"><text class="k" x="1082" y="577">fraction of irregular<tspan x="1082" dy="4.6">projects</tspan></text></g>
<g id="v343"><text class="k" x="1136" y="576">monitoring authority<tspan x="1136" dy="4.6">setup and approval</tspan><tspan x="1136" dy="4.6">conditionality</tspan></text></g>
<g id="v344"><text class="g" x="1036" y="571">utilization and realization<tspan x="1036" dy="4.6">bureaucratic requirements</tspan><tspan x="1036" dy="4.6">multiplier</tspan></text></g>
<g id="v345"><text class="b" x="1034" y="593">utilization and realization<tspan x="1034" dy="4.6">bureaucratic requirements</tspan><tspan x="1034" dy="4.6">multiplier playable</tspan></text></g>
<g id="v346"><text class="g" x="1099" y="602">reference LMA<tspan x="1099" dy="4.6">monitoring time</tspan></text></g>
<g id="v347"><text class="k" x="1051" y="615">monitoring<tspan x="1051" dy="4.6">capacity</tspan></text></g>
<g id="v348"><text class="y" x="1141" y="615">monitoring authority<tspan x="1141" dy="4.6">setup and approval date</tspan></text></g>
<g id="v349"><text class="b" x="1089" y="631">reference LMA<tspan x="1089" dy="4.6">monitoring time playable</tspan></text></g>
<g id="v350"><text class="b" x="1115" y="646">monitoring authority setup<tspan x="1115" dy="4.6">and approval date playable</tspan></text></g>
<g id="v351"><text class="k" x="1182" y="641">total projects completed<tspan x="1182" dy="4.6">accumulation</tspan></text></g>

<g id="v352"><text class="k" x="791" y="346">perceived application bureaucracy<tspan x="791" dy="4.6">costs effect on average</tspan><tspan x="791" dy="4.6">application costs multiplier</tspan></text></g>
<g id="v352b"><text class="b" x="789" y="326">perceived application bureaucracy<tspan x="789" dy="4.6">costs effect on average application</tspan><tspan x="789" dy="4.6">costs multiplier playable</tspan></text></g>
<g id="v352c"><text class="b" x="902" y="328">reference beneficiary staff skills<tspan x="902" dy="4.6">capacity playable (multiplier</tspan><tspan x="902" dy="4.6">and divider)</tspan></text></g>
<g id="v352d"><text class="gr" x="841" y="334">&lt;playing<tspan x="841" dy="4.6">conditions&gt;</tspan></text></g>
<g id="v353"><text class="b" x="828" y="350">reference application<tspan x="828" dy="4.6">costs playable</tspan></text></g>
<g id="v354"><text class="k" x="837" y="365">reference<tspan x="837" dy="4.6">application costs</tspan></text></g>
<g id="v355"><text class="gr" x="765" y="367">&lt;playing<tspan x="765" dy="4.6">conditions&gt;</tspan></text></g>
<g id="v356"><text class="g" x="795" y="380">average<tspan x="795" dy="4.6">application costs</tspan></text></g>
<g id="v357"><text class="y" x="873" y="363">actual beneficiary staff<tspan x="873" dy="4.6">skills capacity</tspan></text></g>
<g id="v358"><text class="b" x="855" y="391">effect of intermediary<tspan x="855" dy="4.6">consultancy companies on</tspan><tspan x="855" dy="4.6">applications weight</tspan></text></g>
<g id="v359"><text class="b" x="906" y="393">beneficiary staff skills<tspan x="906" dy="4.6">capacity weight</tspan></text></g>
<g id="v360"><text class="k" x="931" y="357">average project<tspan x="931" dy="4.6">quality</tspan></text></g>
<g id="v361"><text class="k" x="966" y="357">average project<tspan x="966" dy="4.6">quality weight</tspan></text></g>
<g id="v362"><text class="k" x="942" y="384">average application<tspan x="942" dy="4.6">quality</tspan></text></g>
<g id="v363"><text class="k" x="942" y="401">effect of beneficiary's<tspan x="942" dy="4.6">capacity on application</tspan><tspan x="942" dy="4.6">quality weight</tspan></text></g>
<g id="v364"><text class="k" x="1000" y="394">reference standards for<tspan x="1000" dy="4.6">acceptable application</tspan><tspan x="1000" dy="4.6">quality</tspan></text></g>
<g id="v365"><text class="k" x="797" y="398">convenience of making<tspan x="797" dy="4.6">an application effect</tspan></text></g>
<g id="v366"><text class="k" x="723" y="330">total potential project<tspan x="723" dy="4.6">applications per call of interested</tspan><tspan x="723" dy="4.6">beneficiaries</tspan></text></g>
<g id="v367"><text class="k" x="721" y="365">total potential project applications<tspan x="721" dy="4.6">per call of interested beneficiaries</tspan><tspan x="721" dy="4.6">able to co finance</tspan></text></g>
<g id="v368"><text class="k" x="728" y="393">total potential project applications per call<tspan x="728" dy="4.6">of interested beneficiaries aware of the EU</tspan><tspan x="728" dy="4.6">funding opportunities who find convenient</tspan><tspan x="728" dy="4.6">to apply</tspan></text></g>
<g id="v369"><text class="k" x="798" y="418">average amount of money a<tspan x="798" dy="4.6">beneficiary is willing to invest</tspan><tspan x="798" dy="4.6">for an application</tspan></text></g>
<g id="v370"><text class="k" x="862" y="421">&lt;average project<tspan x="862" dy="4.6">value&gt;</tspan></text></g>
<g id="v371"><text class="k" x="896" y="419">effect of application<tspan x="896" dy="4.6">quality on acceptance rate</tspan></text></g>
<g id="v372"><text class="k" x="990" y="421">standards for<tspan x="990" dy="4.6">acceptable application</tspan><tspan x="990" dy="4.6">quality</tspan></text></g>
<g id="v373"><text class="g" x="686" y="418">risk taken fraction</text></g>
<g id="v374"><text class="k" x="722" y="441">actual project<tspan x="722" dy="4.6">applications per call</tspan></text></g>
<g id="v375"><text class="k" x="770" y="441">&lt;utilization and realization<tspan x="770" dy="4.6">bureaucratic requirements</tspan><tspan x="770" dy="4.6">multiplier&gt;</tspan></text></g>
<g id="v376"><text class="k" x="810" y="439">acceptable fraction of<tspan x="810" dy="4.6">costs for a beneficiary</tspan></text></g>
<g id="v377"><text class="k" x="926" y="431">lowering standards<tspan x="926" dy="4.6">policy switch</tspan></text></g>
<g id="v378"><text class="b" x="898" y="445">lowering standards<tspan x="898" dy="4.6">policy switch playable</tspan></text></g>
<g id="v379"><text class="g" x="964" y="443">pressure to decrease<tspan x="964" dy="4.6">standards to increase</tspan><tspan x="964" dy="4.6">absorption</tspan></text></g>
<g id="v380"><text class="r" x="1020" y="447">acceptable absorption gap<tspan x="1020" dy="4.6">for lowering standards</tspan></text></g>
<g id="v381"><text class="k" x="918" y="456">&lt;Perceived<tspan x="918" dy="4.6">absorption gap&gt;</tspan></text></g>
<g id="v382"><text class="k" x="872" y="448">reference<tspan x="872" dy="4.6">acceptance rate</tspan></text></g>
<g id="v383"><text class="k" x="837" y="461">acceptance rate</text></g>
<g id="v384"><text class="k" x="787" y="459">rejection rate</text></g>
<g id="v385"><text class="b" x="862" y="466">reference<tspan x="862" dy="4.6">acceptance rate</tspan><tspan x="862" dy="4.6">playable</tspan></text></g>
<g id="v386"><text class="k" x="712" y="484">&lt;policy closing<tspan x="712" dy="4.6">stopping&gt;</tspan></text></g>
<g id="v387"><text class="k" x="795" y="484">&lt;policy closing<tspan x="795" dy="4.6">stopping&gt;</tspan></text></g>
<g id="v388"><text class="k" x="862" y="484">projects under evaluation<tspan x="862" dy="4.6">that are going to be</tspan><tspan x="862" dy="4.6">accepted</tspan></text></g>
<g id="v389"><text class="b" x="834" y="531">average signing time<tspan x="834" dy="4.6">playable</tspan></text></g>
<g id="v390"><text class="k" x="953" y="534">retrospective projects<tspan x="953" dy="4.6">assessment time</tspan></text></g>
<g id="v391"><text class="k" x="988" y="536">&lt;policy closing<tspan x="988" dy="4.6">stopping&gt;</tspan></text></g>
<g id="v392"><text class="k" x="765" y="558">average<tspan x="765" dy="4.6">evaluation time</tspan></text></g>
<g id="v393"><text class="k" x="847" y="552">average signing<tspan x="847" dy="4.6">time</tspan></text></g>
<g id="v394"><text class="k" x="927" y="550">reference fraction of<tspan x="927" dy="4.6">retrospective projects</tspan></text></g>
<g id="v395"><text class="g" x="983" y="552">retrospective<tspan x="983" dy="4.6">projects rate</tspan></text></g>
<g id="v396"><text class="g" x="741" y="578">reference<tspan x="741" dy="4.6">evaluation time</tspan></text></g>
<g id="v397"><text class="g" x="804" y="574">reference signing<tspan x="804" dy="4.6">time</tspan></text></g>
<g id="v398"><text class="b" x="878" y="567">acceptable absorption gap<tspan x="878" dy="4.6">for retrospective projects</tspan></text></g>
<g id="v399"><text class="k" x="935" y="566">fraction of<tspan x="935" dy="4.6">retrospective projects</tspan></text></g>
<g id="v400"><text class="g" x="990" y="574">total pool of eligible<tspan x="990" dy="4.6">retrospective projects per</tspan><tspan x="990" dy="4.6">year</tspan></text></g>
<g id="v401"><text class="y" x="891" y="582">pressure to use retrospective<tspan x="891" dy="4.6">projects to decrease</tspan><tspan x="891" dy="4.6">absorption gap</tspan></text></g>
<g id="v402"><text class="b" x="748" y="593">average evaluation<tspan x="748" dy="4.6">time playable</tspan></text></g>
<g id="v403"><text class="gr" x="848" y="590">&lt;playing<tspan x="848" dy="4.6">conditions&gt;</tspan></text></g>
<g id="v404"><text class="k" x="943" y="593">max acceptable fraction<tspan x="943" dy="4.6">of retrospective projects</tspan></text></g>
<g id="v405"><text class="gr" x="807" y="602">&lt;playing<tspan x="807" dy="4.6">conditions&gt;</tspan></text></g>
<g id="v406"><text class="gr" x="990" y="592">&lt;LMA management<tspan x="990" dy="4.6">stability conditionality&gt;</tspan></text></g>
<g id="v407"><text class="k" x="862" y="606">retrospective projects<tspan x="862" dy="4.6">policy switch</tspan></text></g>
<g id="v408"><text class="k" x="922" y="606">&lt;Perceived<tspan x="922" dy="4.6">absorption gap&gt;</tspan></text></g>
<g id="v409"><text class="b" x="893" y="619">retrospective projects<tspan x="893" dy="4.6">policy switch playable</tspan></text></g>
<g id="v410"><text class="b" x="955" y="622">reference utilization and<tspan x="955" dy="4.6">realization time playable</tspan></text></g>
<g id="v411"><text class="k" x="995" y="605">reference utilization<tspan x="995" dy="4.6">and realization time</tspan></text></g>
<g id="v412"><text class="k" x="832" y="627">administrative<tspan x="832" dy="4.6">capacity</tspan></text></g>
<g id="v413"><text class="k" x="906" y="639">institutional quality<tspan x="906" dy="4.6">weight</tspan></text></g>
<g id="v414"><text class="y" x="683" y="643">LMA management<tspan x="683" dy="4.6">stability starting time</tspan></text></g>
<g id="v415"><text class="g" x="744" y="650">LMA management<tspan x="744" dy="4.6">stability conditionality</tspan></text></g>
<g id="v416"><text class="k" x="755" y="660">LMA management<tspan x="755" dy="4.6">stability weight</tspan></text></g>
<g id="v417"><text class="b" x="790" y="670">LMA management<tspan x="790" dy="4.6">stability playable</tspan></text></g>
<g id="v418"><text class="k" x="825" y="662">LMA management<tspan x="825" dy="4.6">stability</tspan></text></g>
<g id="v419"><text class="k" x="875" y="658">skilled staff effect<tspan x="875" dy="4.6">weight</tspan></text></g>
<g id="v420"><text class="k" x="848" y="679">skilled staff effect</text></g>
<g id="v421"><text class="g" x="905" y="654">institutional quality</text></g>
<g id="v422"><text class="k" x="963" y="669">int LMA staff/EU funds<tspan x="963" dy="4.6">management skills</tspan></text></g>
<g id="v423"><text class="k" x="726" y="684">adjustment year</text></g>
<g id="v424"><text class="gr" x="763" y="684">&lt;TIME STEP&gt;</text></g>
<g id="v425"><text class="b" x="676" y="688">variation to LMA staff<tspan x="676" dy="4.6">number playable</tspan></text></g>
<g id="v426"><text class="k" x="729" y="698">external staff<tspan x="729" dy="4.6">variation</tspan></text></g>
<g id="v427"><text class="gr" x="760" y="697">&lt;policy cycle<tspan x="760" dy="4.6">starting&gt;</tspan></text></g>
<g id="v428"><text class="y" x="815" y="698">number of equipped<tspan x="815" dy="4.6">and skilled staff</tspan></text></g>
<g id="v429"><text class="b" x="675" y="707">LMA staff admission year<tspan x="675" dy="4.6">playable</tspan></text></g>
<g id="v430"><text class="g" x="680" y="730">LMA staff hiring<tspan x="680" dy="4.6">rate</tspan></text></g>
<g id="v431"><text class="g" x="752" y="730">staff turnover rate</text></g>
<g id="v432"><text class="k" x="790" y="723">LMA staff<tspan x="790" dy="4.6">equipment</tspan></text></g>
<g id="v433"><text class="b" x="819" y="723">LMA staff<tspan x="819" dy="4.6">equipment playable</tspan></text></g>
<g id="v434"><text class="gr" x="853" y="707">&lt;playing<tspan x="853" dy="4.6">conditions&gt;</tspan></text></g>
<g id="v435"><text class="gr" x="742" y="753">&lt;playing<tspan x="742" dy="4.6">conditions&gt;</tspan></text></g>
<g id="v436"><text class="k" x="787" y="748">LMA staff average<tspan x="787" dy="4.6">turnover time</tspan></text></g>
<g id="v437"><text class="k" x="705" y="763">int LMA staff</text></g>
<g id="v438"><text class="b" x="787" y="771">LMA staff average<tspan x="787" dy="4.6">turnover time playable</tspan></text></g>
<g id="v439"><text class="k" x="877" y="741">operational and legislative<tspan x="877" dy="4.6">discontinuity multiplier effect on</tspan><tspan x="877" dy="4.6">LMA staff skills</tspan></text></g>
<g id="v440"><text class="b" x="836" y="761">reference operational and<tspan x="836" dy="4.6">legislative discontinuity multiplier</tspan><tspan x="836" dy="4.6">effect on LMA staff skills</tspan></text></g>
<g id="v441"><text class="gr" x="897" y="729">&lt;Time&gt;</text></g>
<g id="v442"><text class="k" x="926" y="746">operational and<tspan x="926" dy="4.6">legislative discontinuity</tspan></text></g>
<g id="v443"><text class="k" x="886" y="772">&lt;TIME STEP&gt;</text></g>
<g id="v444"><text class="k" x="955" y="772">&lt;adjustment year&gt;</text></g>
<g id="v445"><text class="k" x="890" y="789">operational and legislative<tspan x="890" dy="4.6">discontinuity starting time</tspan></text></g>
<g id="v446"><text class="k" x="941" y="790">operational and legislative<tspan x="941" dy="4.6">discontinuity impact</tspan></text></g>
<g id="v447"><text class="b" x="834" y="797">operational and legislative<tspan x="834" dy="4.6">discontinuity multiplier effect on</tspan><tspan x="834" dy="4.6">LMA staff skills playable</tspan></text></g>
<g id="v448"><text class="g" x="908" y="701">LMA staff skills<tspan x="908" dy="4.6">decay</tspan></text></g>
<g id="v449"><text class="k" x="968" y="727">&lt;policy cycle<tspan x="968" dy="4.6">starting&gt;</tspan></text></g>
<g id="v450"><text class="k" x="978" y="746">LMA staff skills training<tspan x="978" dy="4.6">program stopping time</tspan></text></g>
<g id="v451"><text class="gr" x="1015" y="666">&lt;playing<tspan x="1015" dy="4.6">conditions&gt;</tspan></text></g>
<g id="v452"><text class="k" x="1058" y="674">&lt;adjustment year&gt;</text></g>
<g id="v453"><text class="g" x="1032" y="700">LMA staff learning</text></g>
<g id="v454"><text class="k" x="1116" y="701">LMA staff skills<tspan x="1116" dy="4.6">improvements per project</tspan><tspan x="1116" dy="4.6">completed</tspan></text></g>
<g id="v455"><text class="b" x="1113" y="722">LMA staff skills<tspan x="1113" dy="4.6">improvements per project</tspan><tspan x="1113" dy="4.6">completed playable</tspan></text></g>
<g id="v456"><text class="k" x="1039" y="733">LMA skills improvements<tspan x="1039" dy="4.6">due to training programs</tspan></text></g>
<g id="v457"><text class="k" x="1093" y="748">LMA staff skills training<tspan x="1093" dy="4.6">program impact</tspan></text></g>
<g id="v458"><text class="k" x="1021" y="764">LMA staff skills training<tspan x="1021" dy="4.6">program starting time</tspan></text></g>
<g id="v459"><text class="k" x="514" y="688">ideal number of equipped<tspan x="514" dy="4.6">and skilled staff change rate</tspan></text></g>
<g id="v460"><text class="k" x="461" y="689">&lt;policy cycle<tspan x="461" dy="4.6">starting&gt;</tspan></text></g>
<g id="v461"><text class="g" x="511" y="728">ideal LMA staff<tspan x="511" dy="4.6">adjustment time</tspan></text></g>
<g id="v462"><text class="gr" x="584" y="714">&lt;playing<tspan x="584" dy="4.6">conditions&gt;</tspan></text></g>
<g id="v463"><text class="k" x="616" y="731">fraction of missing staff<tspan x="616" dy="4.6">hired per year</tspan></text></g>
<g id="v464"><text class="k" x="609" y="753">LMA staff<tspan x="609" dy="4.6">adjustment time</tspan></text></g>
<g id="v465"><text class="b" x="668" y="758">fraction of missing staff<tspan x="668" dy="4.6">hired per year playable</tspan></text></g>
<g id="v466"><text class="k" x="439" y="658">&lt;average project<tspan x="439" dy="4.6">value&gt;</tspan></text></g>

<g id="v467"><text class="k" x="1025" y="351">effect of average project value<tspan x="1025" dy="4.6">on average project application quality</tspan><tspan x="1025" dy="4.6">weight</tspan></text></g>
<g id="v468"><text class="k" x="1057" y="371">reference project<tspan x="1057" dy="4.6">value</tspan></text></g>
<g id="v469"><text class="k" x="1049" y="394">effect of average project<tspan x="1049" dy="4.6">value on application quality</tspan></text></g>
<g id="v470"><text class="k" x="1104" y="419">effect of project quality<tspan x="1104" dy="4.6">on performance rate</tspan></text></g>
<g id="v471"><text class="b" x="1062" y="431">average project<tspan x="1062" dy="4.6">value reference</tspan></text></g>
<g id="v472"><text class="b" x="1063" y="451">average project<tspan x="1063" dy="4.6">value playable</tspan></text></g>
<g id="v473"><text class="y" x="1105" y="460">average project<tspan x="1105" dy="4.6">value</tspan></text></g>
<g id="v474"><text class="gr" x="1105" y="474">&lt;playing<tspan x="1105" dy="4.6">conditions&gt;</tspan></text></g>
<g id="v475"><text class="b" x="1149" y="361">operational and legislative<tspan x="1149" dy="4.6">discontinuity multiplier effect on</tspan><tspan x="1149" dy="4.6">beneficiaries playable</tspan></text></g>
<g id="v476"><text class="k" x="1262" y="352">reference operational and<tspan x="1262" dy="4.6">legislative discontinuity multiplier</tspan><tspan x="1262" dy="4.6">effect on beneficiaries playable</tspan></text></g>
<g id="v477"><text class="b" x="1213" y="382">operational and legislative<tspan x="1213" dy="4.6">discontinuity multiplier effect</tspan><tspan x="1213" dy="4.6">on beneficiaries</tspan></text></g>
<g id="v478"><text class="gr" x="1176" y="406">&lt;playing<tspan x="1176" dy="4.6">conditions&gt;</tspan></text></g>
<g id="v479"><text class="gr" x="1203" y="412">&lt;Time&gt;</text></g>
<g id="v480"><text class="k" x="1247" y="406">&lt;operational and<tspan x="1247" dy="4.6">legislative discontinuity&gt;</tspan></text></g>
<g id="v481"><text class="g" x="1266" y="439">beneficiary staff<tspan x="1266" dy="4.6">capacity skills decay</tspan></text></g>
<g id="v482"><text class="k" x="1264" y="465">average beneficiary<tspan x="1264" dy="4.6">staff turnover time</tspan></text></g>
<g id="v483"><text class="k" x="1300" y="465">&lt;policy cycle<tspan x="1300" dy="4.6">starting&gt;</tspan></text></g>
<g id="v484"><text class="k" x="1145" y="460">performance of projects<tspan x="1145" dy="4.6">completed accumulation</tspan></text></g>
<g id="v485"><text class="k" x="1230" y="479">average absolute<tspan x="1230" dy="4.6">project quality per cycle</tspan></text></g>
<g id="v486"><text class="k" x="1189" y="486">&lt;payments to<tspan x="1189" dy="4.6">beneficiaries rate&gt;</tspan></text></g>
</svg>
